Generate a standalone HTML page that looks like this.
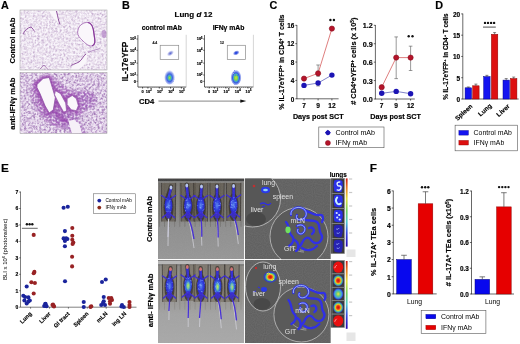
<!DOCTYPE html>
<html><head><meta charset="utf-8"><title>Figure</title>
<style>html,body{margin:0;padding:0;background:#fff;} svg{display:block;will-change:transform;filter:blur(0.3px);} text{font-family:"Liberation Sans", sans-serif;}</style>
</head><body>
<svg xmlns="http://www.w3.org/2000/svg" width="520" height="344" viewBox="0 0 520 344">
<rect x="0" y="0" width="520" height="344" fill="#fff"/>
<text x="1" y="9.1" font-size="10.8" font-weight="bold" text-anchor="start" fill="#000" stroke="#000" stroke-width="0.16">A</text>
<text x="121.9" y="9.2" font-size="10.8" font-weight="bold" text-anchor="start" fill="#000" stroke="#000" stroke-width="0.16">B</text>
<text x="269.6" y="9.3" font-size="10.8" font-weight="bold" text-anchor="start" fill="#000" stroke="#000" stroke-width="0.16">C</text>
<text x="435.2" y="9.2" font-size="10.8" font-weight="bold" text-anchor="start" fill="#000" stroke="#000" stroke-width="0.16">D</text>
<text x="1" y="172.2" font-size="11.8" font-weight="bold" text-anchor="start" fill="#000" stroke="#000" stroke-width="0.16">E</text>
<text x="369.8" y="172.2" font-size="11.8" font-weight="bold" text-anchor="start" fill="#000" stroke="#000" stroke-width="0.16">F</text>
<defs>
<filter id="texL" x="0" y="0" width="100%" height="100%" color-interpolation-filters="sRGB">
 <feTurbulence type="fractalNoise" baseFrequency="0.45" numOctaves="2" seed="4" result="n"/>
 <feColorMatrix in="n" type="matrix" values="0 0 0 0 0.78  0 0 0 0 0.69  0 0 0 0 0.82  2.6 0 0 0 -1.0" result="c"/>
 <feGaussianBlur stdDeviation="0.45"/>
 <feComposite in2="SourceGraphic" operator="in"/>
</filter>
<filter id="texL2" x="0" y="0" width="100%" height="100%" color-interpolation-filters="sRGB">
 <feTurbulence type="fractalNoise" baseFrequency="0.45" numOctaves="2" seed="9" result="n"/>
 <feColorMatrix in="n" type="matrix" values="0 0 0 0 0.64  0 0 0 0 0.48  0 0 0 0 0.72  2.8 0 0 0 -1.0" result="c"/>
 <feGaussianBlur stdDeviation="0.45"/>
 <feComposite in2="SourceGraphic" operator="in"/>
</filter>
<filter id="texW" x="0" y="0" width="100%" height="100%" color-interpolation-filters="sRGB">
 <feTurbulence type="fractalNoise" baseFrequency="0.5" numOctaves="2" seed="11" result="n"/>
 <feColorMatrix in="n" type="matrix" values="0 0 0 0 0.99  0 0 0 0 0.98  0 0 0 0 1  3.2 0 0 0 -1.3" result="c"/>
 <feGaussianBlur stdDeviation="0.45"/>
 <feComposite in2="SourceGraphic" operator="in"/>
</filter>
<filter id="blurA" x="-20%" y="-20%" width="140%" height="140%"><feGaussianBlur stdDeviation="1.1"/></filter>
<filter id="blurB" x="-20%" y="-20%" width="140%" height="140%"><feGaussianBlur stdDeviation="0.4"/></filter>
<clipPath id="cpA1"><rect x="20" y="10" width="87" height="60"/></clipPath>
<clipPath id="cpA2"><rect x="20" y="72.5" width="87" height="61"/></clipPath>
</defs>
<g clip-path="url(#cpA1)">
<rect x="20" y="10" width="87" height="60" fill="#efe8f1" stroke="none" stroke-width="0"/>
<rect x="20" y="10" width="87" height="60" fill="#fff" stroke="none" stroke-width="0" filter="url(#texL)"/>
<rect x="20" y="10" width="87" height="60" fill="#fff" stroke="none" stroke-width="0" filter="url(#texW)" opacity="0.9"/>
<g filter="url(#blurB)">
<path d="M78,30 C79,25 84,22 88,22.5 C92,23 93.5,28 94,34 C94.5,39 96.5,44 92,46 C88,46.5 84,42 80.5,38.5 C78,36 77,33 78,30 Z" fill="#faf7fb" stroke="#a060b0" stroke-width="0.8"/>
<path d="M88,22.5 C92,23 93.5,28 94,34 C94.5,39 96.5,44 92,46" fill="none" stroke="#8a3a9c" stroke-width="1.2"/>
<path d="M47,9 L58,9 C58.5,15 59,20 60,24.5 C57,22 53,17 47,9 Z" fill="#f9f6fa"/>
<path d="M56.5,11 C58,17 58.5,21 60,24.5" fill="none" stroke="#8a4a9a" stroke-width="1"/>
<path d="M23,34 C25,30 28,27.5 31,27 C32.5,28 33.5,30 34.5,31.5" fill="none" stroke="#8a4a9a" stroke-width="0.9"/>
<path d="M70.5,71 C71,66 75,64 79,62 C82,60 83,56 86,54 C88,55 87,59 86,62 C84,66 80,68 77,71 Z" fill="#f9f6fa"/>
<path d="M70.5,66 C72,64.5 75,64 79,62 C82,60 83,56 86,54" fill="none" stroke="#8a4a9a" stroke-width="0.9"/>
<path d="M88.5,52.3 L93,50.5 L99.4,48.7" fill="none" stroke="#a070b4" stroke-width="0.7" stroke-linejoin="round" stroke-linecap="round"/>
<path d="M40,69 L44,65 L48,69.5" fill="none" stroke="#9a60a8" stroke-width="0.7" stroke-linejoin="round" stroke-linecap="round"/>
<ellipse cx="104" cy="34" rx="2.5" ry="4" fill="#b080c4" opacity="0.7"/>
</g>
</g>
<rect x="20" y="10" width="87" height="60" fill="none" stroke="#9a9a9a" stroke-width="0.5"/>
<g clip-path="url(#cpA2)">
<rect x="20" y="72.5" width="87" height="61" fill="#e6d8ec" stroke="none" stroke-width="0"/>
<path d="M31,88 C33,80 40,76 50,77 C58,78 62,86 70,90 C78,93 88,90 94,94 C98,99 92,106 86,110 C80,115 76,121 70,126 C64,130 56,129 50,124 C43,119 38,113 34,105 C31,99 30,93 31,88 Z" fill="#a862be" opacity="0.95" filter="url(#blurA)"/>
<path d="M44,112 C50,118 56,122 62,126 C66,130 72,134 80,134 L86,134 C84,126 80,120 76,116 C70,112 60,110 52,108 Z" fill="#a060bc" opacity="0.85" filter="url(#blurA)"/>
<path d="M76,92 C84,90 92,92 96,96 C98,102 94,108 88,110 C82,112 78,106 76,100 Z" fill="#a060bc" opacity="0.7" filter="url(#blurA)"/>
<rect x="20" y="72.5" width="87" height="61" fill="#fff" stroke="none" stroke-width="0" filter="url(#texL2)"/>
<rect x="20" y="72.5" width="87" height="61" fill="#fff" stroke="none" stroke-width="0" filter="url(#texW)" opacity="0.75"/>
<g filter="url(#blurA)" opacity="0.75">
<path d="M37.0,84.5 L43.1,78.5 L49.2,77.5 L52.3,87.6 L55.3,97.6 L53.3,109.8 L49.2,112.9 L45.1,105.8 L40.0,93.6 L37.0,87.6 Z" fill="none" stroke="#9440aa" stroke-width="5" stroke-linejoin="round"/>
<path d="M55.5,90.7 L60.6,93.7 L65.6,102.9 L66.6,111.0 L63.6,112.0 L58.6,102.9 L54.5,94.7 Z" fill="none" stroke="#9440aa" stroke-width="4" stroke-linejoin="round"/>
<path d="M67.2,98.6 L72.3,95.5 L76.3,98.6 L78.3,105.6 L76.3,110.7 L71.2,109.7 L67.2,104.6 Z" fill="none" stroke="#9440aa" stroke-width="4" stroke-linejoin="round"/>
<path d="M56,112 C60,118 64,122 68,121" fill="none" stroke="#9440aa" stroke-width="4"/>
</g>
<g filter="url(#blurB)">
<path d="M37.0,84.5 L43.1,78.5 L49.2,77.5 L52.3,87.6 L55.3,97.6 L53.3,109.8 L49.2,112.9 L45.1,105.8 L40.0,93.6 L37.0,87.6 Z" fill="#faf7fb" stroke="#8a4aa0" stroke-width="0.7" stroke-linejoin="round"/>
<path d="M55.5,90.7 L60.6,93.7 L65.6,102.9 L66.6,111.0 L63.6,112.0 L58.6,102.9 L54.5,94.7 Z" fill="#faf7fb" stroke="#8a4aa0" stroke-width="0.6" stroke-linejoin="round"/>
<path d="M67.2,98.6 L72.3,95.5 L76.3,98.6 L78.3,105.6 L76.3,110.7 L71.2,109.7 L67.2,104.6 Z" fill="#faf7fb" stroke="#8a4aa0" stroke-width="0.6" stroke-linejoin="round"/>
<path d="M68.7,120.7 L74.1,119.8 L79.5,124.3 L82.2,134 L72.3,134 L69.6,126.1 Z" fill="#f6f0f8" stroke="none" stroke-width="0" stroke-linejoin="round"/>
</g>
</g>
<rect x="20" y="72.5" width="87" height="61" fill="none" stroke="#9a9a9a" stroke-width="0.5"/>
<text x="15.4" y="40.6" font-size="7.55" font-weight="bold" text-anchor="middle" fill="#000" stroke="#000" stroke-width="0.16" transform="rotate(-90 15.4 40.6)">Control mAb</text>
<text x="15.5" y="103.6" font-size="7.7" font-weight="bold" text-anchor="middle" fill="#000" stroke="#000" stroke-width="0.16" transform="rotate(-90 15.5 103.6)">anti-IFNγ mAb</text>
<text x="193.5" y="17.2" font-size="8.0" font-weight="bold" text-anchor="middle" fill="#000" stroke="#000" stroke-width="0.16">Lung <tspan font-style="italic">d</tspan> 12</text>
<text x="161.8" y="29.8" font-size="6.8" font-weight="bold" text-anchor="middle" fill="#000" stroke="#000" stroke-width="0.16">control mAb</text>
<text x="228.5" y="29.8" font-size="6.8" font-weight="bold" text-anchor="middle" fill="#000" stroke="#000" stroke-width="0.16">IFNγ mAb</text>
<text x="127.9" y="61.5" font-size="8.2" font-weight="bold" text-anchor="middle" fill="#000" stroke="#000" stroke-width="0.16" transform="rotate(-90 127.9 61.5)">IL-17eYFP</text>
<text x="139" y="104" font-size="7.6" font-weight="bold" text-anchor="start" fill="#000" stroke="#000" stroke-width="0.16">CD4</text>
<line x1="158.5" y1="101.1" x2="242" y2="101.1" stroke="#222" stroke-width="0.55"/>
<path d="M246.3,101.1 L240.3,99.5 L240.3,102.7 Z" fill="#111"/>
<defs>
<radialGradient id="blob" cx="50%" cy="55%" r="50%">
 <stop offset="0" stop-color="#b8e040"/>
 <stop offset="0.16" stop-color="#70d060"/>
 <stop offset="0.32" stop-color="#40a8d0"/>
 <stop offset="0.5" stop-color="#4060e0"/>
 <stop offset="0.75" stop-color="#7088e8" stop-opacity="0.7"/>
 <stop offset="1" stop-color="#a0b0f0" stop-opacity="0"/>
</radialGradient>
<filter id="fuzz" x="-30%" y="-30%" width="160%" height="160%">
 <feTurbulence type="fractalNoise" baseFrequency="0.9" numOctaves="1" seed="8" result="t"/>
 <feDisplacementMap in="SourceGraphic" in2="t" scale="2.2" xChannelSelector="R" yChannelSelector="G"/>
</filter>
<radialGradient id="blobB" cx="50%" cy="55%" r="50%">
 <stop offset="0" stop-color="#d0e830"/>
 <stop offset="0.3" stop-color="#80d050"/>
 <stop offset="0.45" stop-color="#40a8d0"/>
 <stop offset="0.62" stop-color="#3a5ae0"/>
 <stop offset="0.85" stop-color="#6a80e8" stop-opacity="0.6"/>
 <stop offset="1" stop-color="#a0b0f0" stop-opacity="0"/>
</radialGradient>
<radialGradient id="blob2" cx="50%" cy="50%" r="50%">
 <stop offset="0" stop-color="#5060d0"/>
 <stop offset="0.5" stop-color="#8088d8" stop-opacity="0.7"/>
 <stop offset="1" stop-color="#b0b8f0" stop-opacity="0"/>
</radialGradient>
<radialGradient id="blob3" cx="50%" cy="50%" r="50%">
 <stop offset="0" stop-color="#2040e0"/>
 <stop offset="0.3" stop-color="#3050e0"/>
 <stop offset="0.65" stop-color="#6070e0" stop-opacity="0.7"/>
 <stop offset="1" stop-color="#a0a8f0" stop-opacity="0"/>
</radialGradient>
</defs>
<line x1="137.9" y1="35.0" x2="137.9" y2="87.0" stroke="#000" stroke-width="0.6"/>
<line x1="137.9" y1="87.0" x2="186.2" y2="87.0" stroke="#000" stroke-width="0.6"/>
<line x1="186.2" y1="34.8" x2="186.2" y2="87.0" stroke="#aaa" stroke-width="0.5"/>
<line x1="136.4" y1="39" x2="137.9" y2="39" stroke="#000" stroke-width="0.5"/>
<text x="135.9" y="40.4" font-size="3.9" font-weight="bold" text-anchor="end" fill="#000" stroke="#000" stroke-width="0.16">10<tspan font-size="2.6" dy="-1.4">5</tspan></text>
<line x1="136.4" y1="50.3" x2="137.9" y2="50.3" stroke="#000" stroke-width="0.5"/>
<text x="135.9" y="51.699999999999996" font-size="3.9" font-weight="bold" text-anchor="end" fill="#000" stroke="#000" stroke-width="0.16">10<tspan font-size="2.6" dy="-1.4">4</tspan></text>
<line x1="136.4" y1="63.1" x2="137.9" y2="63.1" stroke="#000" stroke-width="0.5"/>
<text x="135.9" y="64.5" font-size="3.9" font-weight="bold" text-anchor="end" fill="#000" stroke="#000" stroke-width="0.16">10<tspan font-size="2.6" dy="-1.4">3</tspan></text>
<line x1="136.4" y1="75" x2="137.9" y2="75" stroke="#000" stroke-width="0.5"/>
<text x="135.9" y="76.4" font-size="3.9" font-weight="bold" text-anchor="end" fill="#000" stroke="#000" stroke-width="0.16">10<tspan font-size="2.6" dy="-1.4">2</tspan></text>
<line x1="136.4" y1="81.3" x2="137.9" y2="81.3" stroke="#000" stroke-width="0.5"/>
<text x="135.9" y="82.7" font-size="3.9" font-weight="bold" text-anchor="end" fill="#000" stroke="#000" stroke-width="0.16">0</text>
<line x1="142.6" y1="87.0" x2="142.6" y2="88.6" stroke="#000" stroke-width="0.6"/>
<line x1="147.9" y1="87.0" x2="147.9" y2="88.6" stroke="#000" stroke-width="0.6"/>
<line x1="159.3" y1="87.0" x2="159.3" y2="88.6" stroke="#000" stroke-width="0.6"/>
<line x1="170.60000000000002" y1="87.0" x2="170.60000000000002" y2="88.6" stroke="#000" stroke-width="0.6"/>
<line x1="181.4" y1="87.0" x2="181.4" y2="88.6" stroke="#000" stroke-width="0.6"/>
<text x="142.6" y="92.6" font-size="3.9" font-weight="bold" text-anchor="middle" fill="#000" stroke="#000" stroke-width="0.16">0</text>
<text x="148.70000000000002" y="92.6" font-size="3.9" font-weight="bold" text-anchor="middle" fill="#000" stroke="#000" stroke-width="0.16">10<tspan font-size="2.6" dy="-1.4">2</tspan></text>
<text x="159.9" y="92.6" font-size="3.9" font-weight="bold" text-anchor="middle" fill="#000" stroke="#000" stroke-width="0.16">10<tspan font-size="2.6" dy="-1.4">3</tspan></text>
<text x="171.10000000000002" y="92.6" font-size="3.9" font-weight="bold" text-anchor="middle" fill="#000" stroke="#000" stroke-width="0.16">10<tspan font-size="2.6" dy="-1.4">4</tspan></text>
<text x="181.9" y="92.6" font-size="3.9" font-weight="bold" text-anchor="middle" fill="#000" stroke="#000" stroke-width="0.16">10<tspan font-size="2.6" dy="-1.4">5</tspan></text>
<line x1="138.9" y1="87.0" x2="138.9" y2="87.9" stroke="#000" stroke-width="0.3"/>
<line x1="140.9" y1="87.0" x2="140.9" y2="87.9" stroke="#000" stroke-width="0.3"/>
<line x1="142.9" y1="87.0" x2="142.9" y2="87.9" stroke="#000" stroke-width="0.3"/>
<line x1="144.9" y1="87.0" x2="144.9" y2="87.9" stroke="#000" stroke-width="0.3"/>
<line x1="146.9" y1="87.0" x2="146.9" y2="87.9" stroke="#000" stroke-width="0.3"/>
<line x1="148.9" y1="87.0" x2="148.9" y2="87.9" stroke="#000" stroke-width="0.3"/>
<line x1="150.9" y1="87.0" x2="150.9" y2="87.9" stroke="#000" stroke-width="0.3"/>
<line x1="152.9" y1="87.0" x2="152.9" y2="87.9" stroke="#000" stroke-width="0.3"/>
<line x1="154.9" y1="87.0" x2="154.9" y2="87.9" stroke="#000" stroke-width="0.3"/>
<line x1="156.9" y1="87.0" x2="156.9" y2="87.9" stroke="#000" stroke-width="0.3"/>
<line x1="158.9" y1="87.0" x2="158.9" y2="87.9" stroke="#000" stroke-width="0.3"/>
<line x1="160.9" y1="87.0" x2="160.9" y2="87.9" stroke="#000" stroke-width="0.3"/>
<line x1="162.9" y1="87.0" x2="162.9" y2="87.9" stroke="#000" stroke-width="0.3"/>
<line x1="164.9" y1="87.0" x2="164.9" y2="87.9" stroke="#000" stroke-width="0.3"/>
<line x1="166.9" y1="87.0" x2="166.9" y2="87.9" stroke="#000" stroke-width="0.3"/>
<line x1="168.9" y1="87.0" x2="168.9" y2="87.9" stroke="#000" stroke-width="0.3"/>
<line x1="170.9" y1="87.0" x2="170.9" y2="87.9" stroke="#000" stroke-width="0.3"/>
<line x1="172.9" y1="87.0" x2="172.9" y2="87.9" stroke="#000" stroke-width="0.3"/>
<line x1="174.9" y1="87.0" x2="174.9" y2="87.9" stroke="#000" stroke-width="0.3"/>
<line x1="176.9" y1="87.0" x2="176.9" y2="87.9" stroke="#000" stroke-width="0.3"/>
<line x1="178.9" y1="87.0" x2="178.9" y2="87.9" stroke="#000" stroke-width="0.3"/>
<line x1="180.9" y1="87.0" x2="180.9" y2="87.9" stroke="#000" stroke-width="0.3"/>
<line x1="182.9" y1="87.0" x2="182.9" y2="87.9" stroke="#000" stroke-width="0.3"/>
<line x1="184.9" y1="87.0" x2="184.9" y2="87.9" stroke="#000" stroke-width="0.3"/>
<rect x="160.2" y="45.3" width="18.5" height="14.1" fill="none" stroke="#8c8c8c" stroke-width="0.7"/>
<text x="152.4" y="43.9" font-size="3.4" font-weight="bold" text-anchor="start" fill="#222" stroke="#222" stroke-width="0.16">4.4</text>
<ellipse cx="170.39999999999998" cy="53.3" rx="4" ry="2.5" fill="url(#blob2)" transform="rotate(-35 170.39999999999998 53.3)"/>
<ellipse cx="169.6" cy="77.0" rx="5.6" ry="7.8" fill="url(#blob)" filter="url(#fuzz)"/>
<line x1="204.5" y1="35.0" x2="204.5" y2="87.0" stroke="#000" stroke-width="0.6"/>
<line x1="204.5" y1="87.0" x2="253.4" y2="87.0" stroke="#000" stroke-width="0.6"/>
<line x1="253.4" y1="34.8" x2="253.4" y2="87.0" stroke="#aaa" stroke-width="0.5"/>
<line x1="203.0" y1="39" x2="204.5" y2="39" stroke="#000" stroke-width="0.5"/>
<text x="202.5" y="40.4" font-size="3.9" font-weight="bold" text-anchor="end" fill="#000" stroke="#000" stroke-width="0.16">10<tspan font-size="2.6" dy="-1.4">5</tspan></text>
<line x1="203.0" y1="50.3" x2="204.5" y2="50.3" stroke="#000" stroke-width="0.5"/>
<text x="202.5" y="51.699999999999996" font-size="3.9" font-weight="bold" text-anchor="end" fill="#000" stroke="#000" stroke-width="0.16">10<tspan font-size="2.6" dy="-1.4">4</tspan></text>
<line x1="203.0" y1="63.1" x2="204.5" y2="63.1" stroke="#000" stroke-width="0.5"/>
<text x="202.5" y="64.5" font-size="3.9" font-weight="bold" text-anchor="end" fill="#000" stroke="#000" stroke-width="0.16">10<tspan font-size="2.6" dy="-1.4">3</tspan></text>
<line x1="203.0" y1="75" x2="204.5" y2="75" stroke="#000" stroke-width="0.5"/>
<text x="202.5" y="76.4" font-size="3.9" font-weight="bold" text-anchor="end" fill="#000" stroke="#000" stroke-width="0.16">10<tspan font-size="2.6" dy="-1.4">2</tspan></text>
<line x1="203.0" y1="81.3" x2="204.5" y2="81.3" stroke="#000" stroke-width="0.5"/>
<text x="202.5" y="82.7" font-size="3.9" font-weight="bold" text-anchor="end" fill="#000" stroke="#000" stroke-width="0.16">0</text>
<line x1="209.2" y1="87.0" x2="209.2" y2="88.6" stroke="#000" stroke-width="0.6"/>
<line x1="214.5" y1="87.0" x2="214.5" y2="88.6" stroke="#000" stroke-width="0.6"/>
<line x1="225.9" y1="87.0" x2="225.9" y2="88.6" stroke="#000" stroke-width="0.6"/>
<line x1="237.2" y1="87.0" x2="237.2" y2="88.6" stroke="#000" stroke-width="0.6"/>
<line x1="248.0" y1="87.0" x2="248.0" y2="88.6" stroke="#000" stroke-width="0.6"/>
<text x="209.2" y="92.6" font-size="3.9" font-weight="bold" text-anchor="middle" fill="#000" stroke="#000" stroke-width="0.16">0</text>
<text x="215.3" y="92.6" font-size="3.9" font-weight="bold" text-anchor="middle" fill="#000" stroke="#000" stroke-width="0.16">10<tspan font-size="2.6" dy="-1.4">2</tspan></text>
<text x="226.5" y="92.6" font-size="3.9" font-weight="bold" text-anchor="middle" fill="#000" stroke="#000" stroke-width="0.16">10<tspan font-size="2.6" dy="-1.4">3</tspan></text>
<text x="237.7" y="92.6" font-size="3.9" font-weight="bold" text-anchor="middle" fill="#000" stroke="#000" stroke-width="0.16">10<tspan font-size="2.6" dy="-1.4">4</tspan></text>
<text x="248.5" y="92.6" font-size="3.9" font-weight="bold" text-anchor="middle" fill="#000" stroke="#000" stroke-width="0.16">10<tspan font-size="2.6" dy="-1.4">5</tspan></text>
<line x1="205.5" y1="87.0" x2="205.5" y2="87.9" stroke="#000" stroke-width="0.3"/>
<line x1="207.5" y1="87.0" x2="207.5" y2="87.9" stroke="#000" stroke-width="0.3"/>
<line x1="209.5" y1="87.0" x2="209.5" y2="87.9" stroke="#000" stroke-width="0.3"/>
<line x1="211.5" y1="87.0" x2="211.5" y2="87.9" stroke="#000" stroke-width="0.3"/>
<line x1="213.5" y1="87.0" x2="213.5" y2="87.9" stroke="#000" stroke-width="0.3"/>
<line x1="215.5" y1="87.0" x2="215.5" y2="87.9" stroke="#000" stroke-width="0.3"/>
<line x1="217.5" y1="87.0" x2="217.5" y2="87.9" stroke="#000" stroke-width="0.3"/>
<line x1="219.5" y1="87.0" x2="219.5" y2="87.9" stroke="#000" stroke-width="0.3"/>
<line x1="221.5" y1="87.0" x2="221.5" y2="87.9" stroke="#000" stroke-width="0.3"/>
<line x1="223.5" y1="87.0" x2="223.5" y2="87.9" stroke="#000" stroke-width="0.3"/>
<line x1="225.5" y1="87.0" x2="225.5" y2="87.9" stroke="#000" stroke-width="0.3"/>
<line x1="227.5" y1="87.0" x2="227.5" y2="87.9" stroke="#000" stroke-width="0.3"/>
<line x1="229.5" y1="87.0" x2="229.5" y2="87.9" stroke="#000" stroke-width="0.3"/>
<line x1="231.5" y1="87.0" x2="231.5" y2="87.9" stroke="#000" stroke-width="0.3"/>
<line x1="233.5" y1="87.0" x2="233.5" y2="87.9" stroke="#000" stroke-width="0.3"/>
<line x1="235.5" y1="87.0" x2="235.5" y2="87.9" stroke="#000" stroke-width="0.3"/>
<line x1="237.5" y1="87.0" x2="237.5" y2="87.9" stroke="#000" stroke-width="0.3"/>
<line x1="239.5" y1="87.0" x2="239.5" y2="87.9" stroke="#000" stroke-width="0.3"/>
<line x1="241.5" y1="87.0" x2="241.5" y2="87.9" stroke="#000" stroke-width="0.3"/>
<line x1="243.5" y1="87.0" x2="243.5" y2="87.9" stroke="#000" stroke-width="0.3"/>
<line x1="245.5" y1="87.0" x2="245.5" y2="87.9" stroke="#000" stroke-width="0.3"/>
<line x1="247.5" y1="87.0" x2="247.5" y2="87.9" stroke="#000" stroke-width="0.3"/>
<line x1="249.5" y1="87.0" x2="249.5" y2="87.9" stroke="#000" stroke-width="0.3"/>
<line x1="251.5" y1="87.0" x2="251.5" y2="87.9" stroke="#000" stroke-width="0.3"/>
<rect x="227.3" y="45.3" width="18.1" height="14.1" fill="none" stroke="#8c8c8c" stroke-width="0.7"/>
<text x="220.0" y="43.9" font-size="3.4" font-weight="bold" text-anchor="start" fill="#222" stroke="#222" stroke-width="0.16">12</text>
<ellipse cx="236.20000000000002" cy="52.9" rx="3.6" ry="2.4" fill="url(#blob3)" transform="rotate(-25 236.20000000000002 52.9)"/>
<ellipse cx="236.0" cy="77.0" rx="5.6" ry="8.2" fill="url(#blobB)" filter="url(#fuzz)"/>
<line x1="296.9" y1="25.0" x2="296.9" y2="99.1" stroke="#000" stroke-width="0.6"/>
<line x1="295.29999999999995" y1="98.8" x2="296.9" y2="98.8" stroke="#000" stroke-width="0.6"/>
<text x="294.29999999999995" y="101.55199999999999" font-size="6.4" font-weight="bold" text-anchor="end" fill="#000" stroke="#000" stroke-width="0.16">0</text>
<line x1="295.29999999999995" y1="80.425" x2="296.9" y2="80.425" stroke="#000" stroke-width="0.6"/>
<text x="294.29999999999995" y="83.17699999999999" font-size="6.4" font-weight="bold" text-anchor="end" fill="#000" stroke="#000" stroke-width="0.16">4</text>
<line x1="295.29999999999995" y1="62.05" x2="296.9" y2="62.05" stroke="#000" stroke-width="0.6"/>
<text x="294.29999999999995" y="64.80199999999999" font-size="6.4" font-weight="bold" text-anchor="end" fill="#000" stroke="#000" stroke-width="0.16">8</text>
<line x1="295.29999999999995" y1="43.675" x2="296.9" y2="43.675" stroke="#000" stroke-width="0.6"/>
<text x="294.29999999999995" y="46.427" font-size="6.4" font-weight="bold" text-anchor="end" fill="#000" stroke="#000" stroke-width="0.16">12</text>
<line x1="295.29999999999995" y1="25.299999999999997" x2="296.9" y2="25.299999999999997" stroke="#000" stroke-width="0.6"/>
<text x="294.29999999999995" y="28.051999999999996" font-size="6.4" font-weight="bold" text-anchor="end" fill="#000" stroke="#000" stroke-width="0.16">16</text>
<line x1="296.9" y1="98.8" x2="338.6" y2="98.8" stroke="#000" stroke-width="0.6"/>
<line x1="304.0" y1="98.8" x2="304.0" y2="100.39999999999999" stroke="#000" stroke-width="0.6"/>
<text x="304.0" y="108.1" font-size="6.6" font-weight="bold" text-anchor="middle" fill="#000" stroke="#000" stroke-width="0.16">7</text>
<line x1="318.1" y1="98.8" x2="318.1" y2="100.39999999999999" stroke="#000" stroke-width="0.6"/>
<text x="318.1" y="108.1" font-size="6.6" font-weight="bold" text-anchor="middle" fill="#000" stroke="#000" stroke-width="0.16">9</text>
<line x1="331.9" y1="98.8" x2="331.9" y2="100.39999999999999" stroke="#000" stroke-width="0.6"/>
<text x="331.9" y="108.1" font-size="6.6" font-weight="bold" text-anchor="middle" fill="#000" stroke="#000" stroke-width="0.16">12</text>
<line x1="318.1" y1="76.29062499999999" x2="318.1" y2="64.99" stroke="#555" stroke-width="0.6"/>
<line x1="316.3" y1="64.99" x2="319.90000000000003" y2="64.99" stroke="#555" stroke-width="0.6"/>
<line x1="316.3" y1="76.29062499999999" x2="319.90000000000003" y2="76.29062499999999" stroke="#555" stroke-width="0.6"/>
<line x1="318.1" y1="85.9834375" x2="318.1" y2="82.9975" stroke="#555" stroke-width="0.6"/>
<line x1="316.3" y1="85.9834375" x2="319.90000000000003" y2="85.9834375" stroke="#555" stroke-width="0.6"/>
<polyline points="304.0,78.58749999999999 318.1,73.3046875 331.9,28.6075" fill="none" stroke="#d04848" stroke-width="0.7"/>
<polyline points="304.0,85.38624999999999 318.1,82.9975 331.9,75.09625" fill="none" stroke="#4a50b0" stroke-width="0.7"/>
<circle cx="304.0" cy="85.38624999999999" r="2.7" fill="#1c14b4" stroke="none" stroke-width="0"/>
<circle cx="318.1" cy="82.9975" r="2.7" fill="#1c14b4" stroke="none" stroke-width="0"/>
<circle cx="331.9" cy="75.09625" r="2.7" fill="#1c14b4" stroke="none" stroke-width="0"/>
<circle cx="304.0" cy="78.58749999999999" r="2.6" fill="#b4142a" stroke="#8a0c1c" stroke-width="0.6"/>
<circle cx="318.1" cy="73.3046875" r="2.6" fill="#b4142a" stroke="#8a0c1c" stroke-width="0.6"/>
<circle cx="331.9" cy="28.6075" r="2.6" fill="#b4142a" stroke="#8a0c1c" stroke-width="0.6"/>
<circle cx="330.4" cy="20.0" r="1.2" fill="#111"/>
<circle cx="333.9" cy="20.0" r="1.2" fill="#111"/>
<text x="284.1" y="62.1" font-size="7.0" font-weight="bold" text-anchor="middle" fill="#000" stroke="#000" stroke-width="0.16" transform="rotate(-90 284.1 62.1)">% IL-17eYFP<tspan font-size="65%" baseline-shift="super">+</tspan> in CD4<tspan font-size="65%" baseline-shift="super">+</tspan> T cells</text>
<text x="318.25" y="118.9" font-size="7.2" font-weight="bold" text-anchor="middle" fill="#000" stroke="#000" stroke-width="0.16">Days post SCT</text>
<line x1="375.4" y1="25.0" x2="375.4" y2="99.3" stroke="#000" stroke-width="0.6"/>
<line x1="373.79999999999995" y1="99.0" x2="375.4" y2="99.0" stroke="#000" stroke-width="0.6"/>
<text x="372.79999999999995" y="102.096" font-size="7.2" font-weight="bold" text-anchor="end" fill="#000" stroke="#000" stroke-width="0.16">0.0</text>
<line x1="373.79999999999995" y1="80.575" x2="375.4" y2="80.575" stroke="#000" stroke-width="0.6"/>
<text x="372.79999999999995" y="83.671" font-size="7.2" font-weight="bold" text-anchor="end" fill="#000" stroke="#000" stroke-width="0.16">0.3</text>
<line x1="373.79999999999995" y1="62.15" x2="375.4" y2="62.15" stroke="#000" stroke-width="0.6"/>
<text x="372.79999999999995" y="65.246" font-size="7.2" font-weight="bold" text-anchor="end" fill="#000" stroke="#000" stroke-width="0.16">0.6</text>
<line x1="373.79999999999995" y1="43.725" x2="375.4" y2="43.725" stroke="#000" stroke-width="0.6"/>
<text x="372.79999999999995" y="46.821" font-size="7.2" font-weight="bold" text-anchor="end" fill="#000" stroke="#000" stroke-width="0.16">0.9</text>
<line x1="373.79999999999995" y1="25.299999999999997" x2="375.4" y2="25.299999999999997" stroke="#000" stroke-width="0.6"/>
<text x="372.79999999999995" y="28.395999999999997" font-size="7.2" font-weight="bold" text-anchor="end" fill="#000" stroke="#000" stroke-width="0.16">1.2</text>
<line x1="375.4" y1="99.0" x2="414.8" y2="99.0" stroke="#000" stroke-width="0.6"/>
<line x1="381.7" y1="99.0" x2="381.7" y2="100.6" stroke="#000" stroke-width="0.6"/>
<text x="381.7" y="108.3" font-size="6.6" font-weight="bold" text-anchor="middle" fill="#000" stroke="#000" stroke-width="0.16">7</text>
<line x1="396.2" y1="99.0" x2="396.2" y2="100.6" stroke="#000" stroke-width="0.6"/>
<text x="396.2" y="108.3" font-size="6.6" font-weight="bold" text-anchor="middle" fill="#000" stroke="#000" stroke-width="0.16">9</text>
<line x1="410.6" y1="99.0" x2="410.6" y2="100.6" stroke="#000" stroke-width="0.6"/>
<text x="410.6" y="108.3" font-size="6.6" font-weight="bold" text-anchor="middle" fill="#000" stroke="#000" stroke-width="0.16">12</text>
<line x1="396.2" y1="78.60966666666667" x2="396.2" y2="36.90775" stroke="#555" stroke-width="0.6"/>
<line x1="394.4" y1="36.90775" x2="398.0" y2="36.90775" stroke="#555" stroke-width="0.6"/>
<line x1="394.4" y1="78.60966666666667" x2="398.0" y2="78.60966666666667" stroke="#555" stroke-width="0.6"/>
<line x1="410.6" y1="70.50266666666667" x2="410.6" y2="46.181666666666665" stroke="#555" stroke-width="0.6"/>
<line x1="408.8" y1="46.181666666666665" x2="412.40000000000003" y2="46.181666666666665" stroke="#555" stroke-width="0.6"/>
<line x1="408.8" y1="70.50266666666667" x2="412.40000000000003" y2="70.50266666666667" stroke="#555" stroke-width="0.6"/>
<polyline points="381.7,87.208 396.2,57.60516666666666 410.6,57.60516666666666" fill="none" stroke="#d04848" stroke-width="0.7"/>
<polyline points="381.7,93.28825 396.2,91.38433333333333 410.6,93.71816666666666" fill="none" stroke="#4a50b0" stroke-width="0.7"/>
<circle cx="381.7" cy="93.28825" r="2.7" fill="#1c14b4" stroke="none" stroke-width="0"/>
<circle cx="396.2" cy="91.38433333333333" r="2.7" fill="#1c14b4" stroke="none" stroke-width="0"/>
<circle cx="410.6" cy="93.71816666666666" r="2.7" fill="#1c14b4" stroke="none" stroke-width="0"/>
<circle cx="381.7" cy="87.208" r="2.6" fill="#b4142a" stroke="#8a0c1c" stroke-width="0.6"/>
<circle cx="396.2" cy="57.60516666666666" r="2.6" fill="#b4142a" stroke="#8a0c1c" stroke-width="0.6"/>
<circle cx="410.6" cy="57.60516666666666" r="2.6" fill="#b4142a" stroke="#8a0c1c" stroke-width="0.6"/>
<circle cx="408.7" cy="36.3" r="1.2" fill="#111"/>
<circle cx="412.5" cy="36.3" r="1.2" fill="#111"/>
<text x="355.9" y="61.2" font-size="7.37" font-weight="bold" text-anchor="middle" fill="#000" stroke="#000" stroke-width="0.16" transform="rotate(-90 355.9 61.2)"># CD4<tspan font-size="65%" baseline-shift="super">+</tspan>eYFP<tspan font-size="65%" baseline-shift="super">+</tspan> cells (x 10<tspan font-size="65%" baseline-shift="super">5</tspan>)</text>
<text x="395.6" y="118.9" font-size="7.2" font-weight="bold" text-anchor="middle" fill="#000" stroke="#000" stroke-width="0.16">Days post SCT</text>
<rect x="318.8" y="127" width="65.2" height="20.7" fill="#fff" stroke="#555" stroke-width="0.6"/>
<path d="M327.9,129.8 L330.9,132.7 L327.9,135.6 L324.9,132.7 Z" fill="#1c14b4"/>
<circle cx="327.9" cy="132.7" r="2.3" fill="#1c14b4" stroke="none" stroke-width="0"/>
<circle cx="327.9" cy="142.9" r="2.5" fill="#b4142a" stroke="#8a0c1c" stroke-width="0.5"/>
<text x="335.6" y="135.3" font-size="7.1" font-weight="normal" text-anchor="start" fill="#000">Control mAb</text>
<text x="335.6" y="145.4" font-size="7.1" font-weight="normal" text-anchor="start" fill="#000">IFNγ mAb</text>
<line x1="462.8" y1="13.6" x2="462.8" y2="99.3" stroke="#000" stroke-width="0.6"/>
<line x1="461.2" y1="99.0" x2="462.8" y2="99.0" stroke="#000" stroke-width="0.6"/>
<text x="460.2" y="101.795" font-size="6.5" font-weight="bold" text-anchor="end" fill="#000" stroke="#000" stroke-width="0.16">0</text>
<line x1="461.2" y1="77.725" x2="462.8" y2="77.725" stroke="#000" stroke-width="0.6"/>
<text x="460.2" y="80.52" font-size="6.5" font-weight="bold" text-anchor="end" fill="#000" stroke="#000" stroke-width="0.16">5</text>
<line x1="461.2" y1="56.45" x2="462.8" y2="56.45" stroke="#000" stroke-width="0.6"/>
<text x="460.2" y="59.245000000000005" font-size="6.5" font-weight="bold" text-anchor="end" fill="#000" stroke="#000" stroke-width="0.16">10</text>
<line x1="461.2" y1="35.175000000000004" x2="462.8" y2="35.175000000000004" stroke="#000" stroke-width="0.6"/>
<text x="460.2" y="37.970000000000006" font-size="6.5" font-weight="bold" text-anchor="end" fill="#000" stroke="#000" stroke-width="0.16">15</text>
<line x1="461.2" y1="13.900000000000006" x2="462.8" y2="13.900000000000006" stroke="#000" stroke-width="0.6"/>
<text x="460.2" y="16.695000000000007" font-size="6.5" font-weight="bold" text-anchor="end" fill="#000" stroke="#000" stroke-width="0.16">20</text>
<line x1="462.8" y1="99.0" x2="518.7" y2="99.0" stroke="#000" stroke-width="0.6"/>
<rect x="465.1" y="87.80935" width="6.4" height="11.19065" fill="#1414f0" stroke="#00008a" stroke-width="0.5"/>
<line x1="468.3" y1="87.80935" x2="468.3" y2="86.95835" stroke="#333" stroke-width="0.6"/>
<line x1="466.8" y1="86.95835" x2="469.8" y2="86.95835" stroke="#333" stroke-width="0.6"/>
<rect x="472.7" y="85.8095" width="6.4" height="13.1905" fill="#dd1010" stroke="#8a0000" stroke-width="0.5"/>
<line x1="475.9" y1="85.8095" x2="475.9" y2="84.1075" stroke="#333" stroke-width="0.6"/>
<line x1="474.4" y1="84.1075" x2="477.4" y2="84.1075" stroke="#333" stroke-width="0.6"/>
<rect x="483.7" y="76.6187" width="6.4" height="22.3813" fill="#1414f0" stroke="#00008a" stroke-width="0.5"/>
<line x1="486.9" y1="76.6187" x2="486.9" y2="75.3422" stroke="#333" stroke-width="0.6"/>
<line x1="485.4" y1="75.3422" x2="488.4" y2="75.3422" stroke="#333" stroke-width="0.6"/>
<rect x="491.4" y="34.324" width="6.4" height="64.676" fill="#dd1010" stroke="#8a0000" stroke-width="0.5"/>
<line x1="494.59999999999997" y1="34.324" x2="494.59999999999997" y2="32.622" stroke="#333" stroke-width="0.6"/>
<line x1="493.09999999999997" y1="32.622" x2="496.09999999999997" y2="32.622" stroke="#333" stroke-width="0.6"/>
<rect x="503.0" y="80.1078" width="6.4" height="18.892200000000003" fill="#1414f0" stroke="#00008a" stroke-width="0.5"/>
<line x1="506.2" y1="80.1078" x2="506.2" y2="78.61855" stroke="#333" stroke-width="0.6"/>
<line x1="504.7" y1="78.61855" x2="507.7" y2="78.61855" stroke="#333" stroke-width="0.6"/>
<rect x="510.5" y="78.576" width="6.4" height="20.424" fill="#dd1010" stroke="#8a0000" stroke-width="0.5"/>
<line x1="513.7" y1="78.576" x2="513.7" y2="77.08675" stroke="#333" stroke-width="0.6"/>
<line x1="512.2" y1="77.08675" x2="515.2" y2="77.08675" stroke="#333" stroke-width="0.6"/>
<circle cx="485.0" cy="22.9" r="1.2" fill="#111"/>
<circle cx="488.0" cy="22.9" r="1.2" fill="#111"/>
<circle cx="491.1" cy="22.9" r="1.2" fill="#111"/>
<circle cx="494.1" cy="22.9" r="1.2" fill="#111"/>
<line x1="483.0" y1="27.1" x2="495.8" y2="27.1" stroke="#222" stroke-width="0.8"/>
<text x="473.0" y="106.9" font-size="6.4" font-weight="bold" text-anchor="end" fill="#000" stroke="#000" stroke-width="0.16" transform="rotate(-42 473.0 106.9)">Spleen</text>
<text x="492.1" y="106.3" font-size="6.4" font-weight="bold" text-anchor="end" fill="#000" stroke="#000" stroke-width="0.16" transform="rotate(-42 492.1 106.3)">Lung</text>
<text x="510.2" y="106.9" font-size="6.4" font-weight="bold" text-anchor="end" fill="#000" stroke="#000" stroke-width="0.16" transform="rotate(-42 510.2 106.9)">Liver</text>
<text x="448.0" y="56.6" font-size="6.37" font-weight="bold" text-anchor="middle" fill="#000" stroke="#000" stroke-width="0.16" transform="rotate(-90 448.0 56.6)">% IL-17eYFP<tspan font-size="65%" baseline-shift="super">+</tspan> in CD4<tspan font-size="65%" baseline-shift="super">+</tspan> T cells</text>
<rect x="455.1" y="125.2" width="62.4" height="25.6" fill="#fff" stroke="#555" stroke-width="0.6"/>
<rect x="458.9" y="130.5" width="9.5" height="4.6" fill="#1414f0" stroke="#00008a" stroke-width="0.4"/>
<rect x="458.9" y="140.4" width="9.5" height="4.6" fill="#dd1010" stroke="#8a0000" stroke-width="0.4"/>
<text x="473.6" y="135.3" font-size="6.9" font-weight="normal" text-anchor="start" fill="#000">Control mAb</text>
<text x="473.6" y="145.3" font-size="6.9" font-weight="normal" text-anchor="start" fill="#000">IFNγ mAb</text>
<line x1="20.5" y1="307.2" x2="20.5" y2="191.55" stroke="#000" stroke-width="0.5"/>
<line x1="19.1" y1="307.2" x2="20.5" y2="307.2" stroke="#000" stroke-width="0.5"/>
<text x="18.3" y="309.0" font-size="5.0" font-weight="bold" text-anchor="end" fill="#000" stroke="#000" stroke-width="0.16">0</text>
<line x1="19.1" y1="290.75" x2="20.5" y2="290.75" stroke="#000" stroke-width="0.5"/>
<text x="18.3" y="292.55" font-size="5.0" font-weight="bold" text-anchor="end" fill="#000" stroke="#000" stroke-width="0.16">1</text>
<line x1="19.1" y1="274.3" x2="20.5" y2="274.3" stroke="#000" stroke-width="0.5"/>
<text x="18.3" y="276.1" font-size="5.0" font-weight="bold" text-anchor="end" fill="#000" stroke="#000" stroke-width="0.16">2</text>
<line x1="19.1" y1="257.85" x2="20.5" y2="257.85" stroke="#000" stroke-width="0.5"/>
<text x="18.3" y="259.65000000000003" font-size="5.0" font-weight="bold" text-anchor="end" fill="#000" stroke="#000" stroke-width="0.16">3</text>
<line x1="19.1" y1="241.39999999999998" x2="20.5" y2="241.39999999999998" stroke="#000" stroke-width="0.5"/>
<text x="18.3" y="243.2" font-size="5.0" font-weight="bold" text-anchor="end" fill="#000" stroke="#000" stroke-width="0.16">4</text>
<line x1="19.1" y1="224.95" x2="20.5" y2="224.95" stroke="#000" stroke-width="0.5"/>
<text x="18.3" y="226.75" font-size="5.0" font-weight="bold" text-anchor="end" fill="#000" stroke="#000" stroke-width="0.16">5</text>
<line x1="19.1" y1="208.5" x2="20.5" y2="208.5" stroke="#000" stroke-width="0.5"/>
<text x="18.3" y="210.3" font-size="5.0" font-weight="bold" text-anchor="end" fill="#000" stroke="#000" stroke-width="0.16">6</text>
<line x1="19.1" y1="192.05" x2="20.5" y2="192.05" stroke="#000" stroke-width="0.5"/>
<text x="18.3" y="193.85000000000002" font-size="5.0" font-weight="bold" text-anchor="end" fill="#000" stroke="#000" stroke-width="0.16">7</text>
<line x1="20.5" y1="307.2" x2="136.5" y2="307.2" stroke="#000" stroke-width="0.5"/>
<line x1="30.6" y1="307.2" x2="30.6" y2="308.7" stroke="#000" stroke-width="0.5"/>
<line x1="49.5" y1="307.2" x2="49.5" y2="308.7" stroke="#000" stroke-width="0.5"/>
<line x1="68.4" y1="307.2" x2="68.4" y2="308.7" stroke="#000" stroke-width="0.5"/>
<line x1="87.3" y1="307.2" x2="87.3" y2="308.7" stroke="#000" stroke-width="0.5"/>
<line x1="106.2" y1="307.2" x2="106.2" y2="308.7" stroke="#000" stroke-width="0.5"/>
<line x1="125.1" y1="307.2" x2="125.1" y2="308.7" stroke="#000" stroke-width="0.5"/>
<text x="32.2" y="314.09999999999997" font-size="5.7" font-weight="bold" text-anchor="end" fill="#000" stroke="#000" stroke-width="0.16" transform="rotate(-45 32.2 314.09999999999997)">Lung</text>
<text x="51.1" y="314.09999999999997" font-size="5.7" font-weight="bold" text-anchor="end" fill="#000" stroke="#000" stroke-width="0.16" transform="rotate(-45 51.1 314.09999999999997)">Liver</text>
<text x="70.0" y="314.09999999999997" font-size="5.7" font-weight="bold" text-anchor="end" fill="#000" stroke="#000" stroke-width="0.16" transform="rotate(-45 70.0 314.09999999999997)">GI tract</text>
<text x="88.89999999999999" y="314.09999999999997" font-size="5.7" font-weight="bold" text-anchor="end" fill="#000" stroke="#000" stroke-width="0.16" transform="rotate(-45 88.89999999999999 314.09999999999997)">Spleen</text>
<text x="107.8" y="314.09999999999997" font-size="5.7" font-weight="bold" text-anchor="end" fill="#000" stroke="#000" stroke-width="0.16" transform="rotate(-45 107.8 314.09999999999997)">mLN</text>
<text x="126.69999999999999" y="314.09999999999997" font-size="5.7" font-weight="bold" text-anchor="end" fill="#000" stroke="#000" stroke-width="0.16" transform="rotate(-45 126.69999999999999 314.09999999999997)">ing LN</text>
<text x="7.1" y="249.2" font-size="5.95" font-weight="normal" text-anchor="middle" fill="#000" transform="rotate(-90 7.1 249.2)">BLI x 10<tspan font-size="65%" baseline-shift="super">6</tspan> (photons/sec)</text>
<circle cx="26.7" cy="286.5" r="2.05" fill="#1a249c" stroke="none" stroke-width="0"/>
<circle cx="23.3" cy="295.8" r="2.05" fill="#1a249c" stroke="none" stroke-width="0"/>
<circle cx="25.1" cy="297" r="2.05" fill="#1a249c" stroke="none" stroke-width="0"/>
<circle cx="28.4" cy="297.4" r="2.05" fill="#1a249c" stroke="none" stroke-width="0"/>
<circle cx="24.4" cy="300.5" r="2.05" fill="#1a249c" stroke="none" stroke-width="0"/>
<circle cx="29.8" cy="300.5" r="2.05" fill="#1a249c" stroke="none" stroke-width="0"/>
<circle cx="26.7" cy="303.5" r="2.05" fill="#1a249c" stroke="none" stroke-width="0"/>
<circle cx="28.4" cy="301.6" r="2.05" fill="#1a249c" stroke="none" stroke-width="0"/>
<circle cx="45.3" cy="304" r="2.05" fill="#1a249c" stroke="none" stroke-width="0"/>
<circle cx="46.5" cy="306.3" r="2.05" fill="#1a249c" stroke="none" stroke-width="0"/>
<circle cx="44.2" cy="306" r="2.05" fill="#1a249c" stroke="none" stroke-width="0"/>
<circle cx="45.5" cy="303.7" r="2.05" fill="#1a249c" stroke="none" stroke-width="0"/>
<circle cx="46.3" cy="306" r="2.05" fill="#1a249c" stroke="none" stroke-width="0"/>
<circle cx="63.6" cy="207.8" r="2.05" fill="#1a249c" stroke="none" stroke-width="0"/>
<circle cx="67.8" cy="206.8" r="2.05" fill="#1a249c" stroke="none" stroke-width="0"/>
<circle cx="64.9" cy="231.1" r="2.05" fill="#1a249c" stroke="none" stroke-width="0"/>
<circle cx="63.6" cy="238.4" r="2.05" fill="#1a249c" stroke="none" stroke-width="0"/>
<circle cx="66.2" cy="238.4" r="2.05" fill="#1a249c" stroke="none" stroke-width="0"/>
<circle cx="64.9" cy="241" r="2.05" fill="#1a249c" stroke="none" stroke-width="0"/>
<circle cx="64.9" cy="246.3" r="2.05" fill="#1a249c" stroke="none" stroke-width="0"/>
<circle cx="65" cy="281.25" r="2.05" fill="#1a249c" stroke="none" stroke-width="0"/>
<circle cx="67.4" cy="239" r="2.05" fill="#1a249c" stroke="none" stroke-width="0"/>
<circle cx="83.75" cy="302" r="2.05" fill="#1a249c" stroke="none" stroke-width="0"/>
<circle cx="83.75" cy="307" r="2.05" fill="#1a249c" stroke="none" stroke-width="0"/>
<circle cx="102" cy="282" r="2.05" fill="#1a249c" stroke="none" stroke-width="0"/>
<circle cx="105.75" cy="279.5" r="2.05" fill="#1a249c" stroke="none" stroke-width="0"/>
<circle cx="103.75" cy="297" r="2.05" fill="#1a249c" stroke="none" stroke-width="0"/>
<circle cx="103.75" cy="301.25" r="2.05" fill="#1a249c" stroke="none" stroke-width="0"/>
<circle cx="101.25" cy="305" r="2.05" fill="#1a249c" stroke="none" stroke-width="0"/>
<circle cx="105" cy="305" r="2.05" fill="#1a249c" stroke="none" stroke-width="0"/>
<circle cx="103" cy="303" r="2.05" fill="#1a249c" stroke="none" stroke-width="0"/>
<circle cx="122" cy="305" r="2.05" fill="#1a249c" stroke="none" stroke-width="0"/>
<circle cx="123.75" cy="307" r="2.05" fill="#1a249c" stroke="none" stroke-width="0"/>
<circle cx="121.5" cy="306.5" r="2.05" fill="#1a249c" stroke="none" stroke-width="0"/>
<circle cx="33.7" cy="234.9" r="2.05" fill="#982224" stroke="none" stroke-width="0"/>
<circle cx="34.4" cy="271.9" r="2.05" fill="#982224" stroke="none" stroke-width="0"/>
<circle cx="33.7" cy="273.3" r="2.05" fill="#982224" stroke="none" stroke-width="0"/>
<circle cx="31.4" cy="282.3" r="2.05" fill="#982224" stroke="none" stroke-width="0"/>
<circle cx="34.9" cy="283" r="2.05" fill="#982224" stroke="none" stroke-width="0"/>
<circle cx="33.7" cy="293.5" r="2.05" fill="#982224" stroke="none" stroke-width="0"/>
<circle cx="53" cy="304.6" r="2.05" fill="#982224" stroke="none" stroke-width="0"/>
<circle cx="54" cy="306.5" r="2.05" fill="#982224" stroke="none" stroke-width="0"/>
<circle cx="52.5" cy="305" r="2.05" fill="#982224" stroke="none" stroke-width="0"/>
<circle cx="53.7" cy="306" r="2.05" fill="#982224" stroke="none" stroke-width="0"/>
<circle cx="72.3" cy="228" r="2.05" fill="#982224" stroke="none" stroke-width="0"/>
<circle cx="72.3" cy="235.8" r="2.05" fill="#982224" stroke="none" stroke-width="0"/>
<circle cx="72.3" cy="239.7" r="2.05" fill="#982224" stroke="none" stroke-width="0"/>
<circle cx="72.6" cy="244" r="2.05" fill="#982224" stroke="none" stroke-width="0"/>
<circle cx="73.3" cy="242.5" r="2.05" fill="#982224" stroke="none" stroke-width="0"/>
<circle cx="72.1" cy="256.8" r="2.05" fill="#982224" stroke="none" stroke-width="0"/>
<circle cx="72.1" cy="266.4" r="2.05" fill="#982224" stroke="none" stroke-width="0"/>
<circle cx="91.25" cy="306.25" r="2.05" fill="#982224" stroke="none" stroke-width="0"/>
<circle cx="90.5" cy="307" r="2.05" fill="#982224" stroke="none" stroke-width="0"/>
<circle cx="108.75" cy="298" r="2.05" fill="#982224" stroke="none" stroke-width="0"/>
<circle cx="111.25" cy="298" r="2.05" fill="#982224" stroke="none" stroke-width="0"/>
<circle cx="110" cy="301.25" r="2.05" fill="#982224" stroke="none" stroke-width="0"/>
<circle cx="110" cy="303.75" r="2.05" fill="#982224" stroke="none" stroke-width="0"/>
<circle cx="112" cy="300" r="2.05" fill="#982224" stroke="none" stroke-width="0"/>
<circle cx="129.5" cy="302" r="2.05" fill="#982224" stroke="none" stroke-width="0"/>
<circle cx="129.5" cy="305" r="2.05" fill="#982224" stroke="none" stroke-width="0"/>
<circle cx="129.5" cy="307" r="2.05" fill="#982224" stroke="none" stroke-width="0"/>
<circle cx="26.9" cy="224.3" r="1.2" fill="#111"/>
<circle cx="29.6" cy="224.3" r="1.2" fill="#111"/>
<circle cx="32.3" cy="224.3" r="1.2" fill="#111"/>
<line x1="21.9" y1="228.3" x2="37.7" y2="228.3" stroke="#222" stroke-width="0.7"/>
<rect x="93.3" y="193.8" width="42.3" height="19.7" fill="#fff" stroke="#555" stroke-width="0.5"/>
<circle cx="99.3" cy="200.6" r="1.9" fill="#1a249c" stroke="none" stroke-width="0"/>
<circle cx="99.3" cy="207.6" r="1.9" fill="#8a2a1a" stroke="none" stroke-width="0"/>
<text x="105.4" y="202.2" font-size="4.75" font-weight="normal" text-anchor="start" fill="#000">Control mAb</text>
<text x="105.4" y="209.3" font-size="4.75" font-weight="normal" text-anchor="start" fill="#000">IFNγ mAb</text>
<line x1="393.3" y1="190.6" x2="393.3" y2="294.2" stroke="#000" stroke-width="0.6"/>
<line x1="391.7" y1="293.9" x2="393.3" y2="293.9" stroke="#000" stroke-width="0.6"/>
<text x="390.7" y="296.82399999999996" font-size="6.8" font-weight="bold" text-anchor="end" fill="#000" stroke="#000" stroke-width="0.16">0</text>
<line x1="391.7" y1="276.7333333333333" x2="393.3" y2="276.7333333333333" stroke="#000" stroke-width="0.6"/>
<text x="390.7" y="279.65733333333327" font-size="6.8" font-weight="bold" text-anchor="end" fill="#000" stroke="#000" stroke-width="0.16">1</text>
<line x1="391.7" y1="259.56666666666666" x2="393.3" y2="259.56666666666666" stroke="#000" stroke-width="0.6"/>
<text x="390.7" y="262.49066666666664" font-size="6.8" font-weight="bold" text-anchor="end" fill="#000" stroke="#000" stroke-width="0.16">2</text>
<line x1="391.7" y1="242.39999999999998" x2="393.3" y2="242.39999999999998" stroke="#000" stroke-width="0.6"/>
<text x="390.7" y="245.32399999999998" font-size="6.8" font-weight="bold" text-anchor="end" fill="#000" stroke="#000" stroke-width="0.16">3</text>
<line x1="391.7" y1="225.23333333333335" x2="393.3" y2="225.23333333333335" stroke="#000" stroke-width="0.6"/>
<text x="390.7" y="228.15733333333336" font-size="6.8" font-weight="bold" text-anchor="end" fill="#000" stroke="#000" stroke-width="0.16">4</text>
<line x1="391.7" y1="208.06666666666666" x2="393.3" y2="208.06666666666666" stroke="#000" stroke-width="0.6"/>
<text x="390.7" y="210.99066666666667" font-size="6.8" font-weight="bold" text-anchor="end" fill="#000" stroke="#000" stroke-width="0.16">5</text>
<line x1="391.7" y1="190.9" x2="393.3" y2="190.9" stroke="#000" stroke-width="0.6"/>
<text x="390.7" y="193.824" font-size="6.8" font-weight="bold" text-anchor="end" fill="#000" stroke="#000" stroke-width="0.16">6</text>
<line x1="393.3" y1="293.9" x2="436.7" y2="293.9" stroke="#000" stroke-width="0.6"/>
<rect x="396.7" y="259.56666666666666" width="14.6" height="34.33333333333332" fill="#0808ee" stroke="#00007a" stroke-width="0.5"/>
<rect x="418.2" y="203.775" width="14.6" height="90.12499999999997" fill="#e60000" stroke="#900000" stroke-width="0.5"/>
<line x1="404.0" y1="259.56666666666666" x2="404.0" y2="255.27499999999998" stroke="#444" stroke-width="0.7"/>
<line x1="401.2" y1="255.27499999999998" x2="406.8" y2="255.27499999999998" stroke="#444" stroke-width="0.7"/>
<line x1="425.5" y1="203.775" x2="425.5" y2="191.75833333333333" stroke="#444" stroke-width="0.7"/>
<line x1="422.7" y1="191.75833333333333" x2="428.3" y2="191.75833333333333" stroke="#444" stroke-width="0.7"/>
<circle cx="422.0" cy="187.2" r="1.2" fill="#111"/>
<circle cx="425.2" cy="187.2" r="1.2" fill="#111"/>
<circle cx="428.3" cy="187.2" r="1.2" fill="#111"/>
<text x="376.3" y="241.9" font-size="7.4" font-weight="bold" text-anchor="middle" fill="#000" stroke="#000" stroke-width="0.16" transform="rotate(-90 376.3 241.9)">% IL-17A<tspan font-size="65%" baseline-shift="super">+</tspan> TEa cells</text>
<text x="414.59999999999997" y="304.0" font-size="6.8" font-weight="normal" text-anchor="middle" fill="#000">Lung</text>
<line x1="471.5" y1="190.7" x2="471.5" y2="294.3" stroke="#000" stroke-width="0.6"/>
<line x1="469.9" y1="294.0" x2="471.5" y2="294.0" stroke="#000" stroke-width="0.6"/>
<text x="468.9" y="296.752" font-size="6.4" font-weight="bold" text-anchor="end" fill="#000" stroke="#000" stroke-width="0.16">0.0</text>
<line x1="469.9" y1="268.25" x2="471.5" y2="268.25" stroke="#000" stroke-width="0.6"/>
<text x="468.9" y="271.002" font-size="6.4" font-weight="bold" text-anchor="end" fill="#000" stroke="#000" stroke-width="0.16">0.3</text>
<line x1="469.9" y1="242.5" x2="471.5" y2="242.5" stroke="#000" stroke-width="0.6"/>
<text x="468.9" y="245.252" font-size="6.4" font-weight="bold" text-anchor="end" fill="#000" stroke="#000" stroke-width="0.16">0.6</text>
<line x1="469.9" y1="216.75" x2="471.5" y2="216.75" stroke="#000" stroke-width="0.6"/>
<text x="468.9" y="219.502" font-size="6.4" font-weight="bold" text-anchor="end" fill="#000" stroke="#000" stroke-width="0.16">0.9</text>
<line x1="469.9" y1="191.0" x2="471.5" y2="191.0" stroke="#000" stroke-width="0.6"/>
<text x="468.9" y="193.752" font-size="6.4" font-weight="bold" text-anchor="end" fill="#000" stroke="#000" stroke-width="0.16">1.2</text>
<line x1="471.5" y1="294.0" x2="514.0" y2="294.0" stroke="#000" stroke-width="0.6"/>
<rect x="475.0" y="279.4083333333333" width="14.6" height="14.591666666666669" fill="#0808ee" stroke="#00007a" stroke-width="0.5"/>
<rect x="496.6" y="206.87916666666666" width="14.6" height="87.12083333333334" fill="#e60000" stroke="#900000" stroke-width="0.5"/>
<line x1="482.3" y1="279.4083333333333" x2="482.3" y2="276.8333333333333" stroke="#444" stroke-width="0.7"/>
<line x1="479.5" y1="276.8333333333333" x2="485.1" y2="276.8333333333333" stroke="#444" stroke-width="0.7"/>
<line x1="503.90000000000003" y1="206.87916666666666" x2="503.90000000000003" y2="192.71666666666664" stroke="#444" stroke-width="0.7"/>
<line x1="501.1" y1="192.71666666666664" x2="506.70000000000005" y2="192.71666666666664" stroke="#444" stroke-width="0.7"/>
<circle cx="499.1" cy="187.1" r="1.2" fill="#111"/>
<circle cx="502.3" cy="187.1" r="1.2" fill="#111"/>
<circle cx="505.4" cy="187.1" r="1.2" fill="#111"/>
<circle cx="508.5" cy="187.1" r="1.2" fill="#111"/>
<text x="451.2" y="242.5" font-size="7.37" font-weight="bold" text-anchor="middle" fill="#000" stroke="#000" stroke-width="0.16" transform="rotate(-90 451.2 242.5)"># IL-17A<tspan font-size="65%" baseline-shift="super">+</tspan> TEa cells (x10<tspan font-size="65%" baseline-shift="super">5</tspan>)</text>
<text x="492.5" y="304.0" font-size="6.8" font-weight="normal" text-anchor="middle" fill="#000">Lung</text>
<rect x="421.2" y="310.4" width="64.7" height="23.1" fill="#fff" stroke="#555" stroke-width="0.6"/>
<rect x="425.9" y="314.4" width="9.9" height="4.4" fill="#0808ee" stroke="#00007a" stroke-width="0.4"/>
<rect x="425.9" y="325.3" width="9.9" height="4.4" fill="#e60000" stroke="#900000" stroke-width="0.4"/>
<text x="441.1" y="319.0" font-size="6.9" font-weight="normal" text-anchor="start" fill="#000">Control mAb</text>
<text x="441.1" y="330.0" font-size="6.9" font-weight="normal" text-anchor="start" fill="#000">IFNγ mAb</text>
<defs>
<linearGradient id="mbg1" x1="0" y1="0" x2="0" y2="1">
 <stop offset="0" stop-color="#7a7874"/><stop offset="0.45" stop-color="#858480"/><stop offset="0.6" stop-color="#8e8e8e"/><stop offset="1" stop-color="#969696"/>
</linearGradient>
<linearGradient id="mbg2" x1="0" y1="0" x2="0" y2="1">
 <stop offset="0" stop-color="#8a8884"/><stop offset="0.45" stop-color="#969490"/><stop offset="0.65" stop-color="#a2a2a2"/><stop offset="1" stop-color="#a8a8a8"/>
</linearGradient>
<linearGradient id="cbar" x1="0" y1="0" x2="0" y2="1">
 <stop offset="0" stop-color="#c81818"/><stop offset="0.12" stop-color="#e87020"/><stop offset="0.3" stop-color="#e0e040"/>
 <stop offset="0.48" stop-color="#70d060"/><stop offset="0.64" stop-color="#50c8d0"/><stop offset="0.8" stop-color="#3848e0"/><stop offset="1" stop-color="#2808b0"/>
</linearGradient>
<radialGradient id="mbody" cx="50%" cy="50%" r="50%">
 <stop offset="0" stop-color="#5a88f0"/><stop offset="0.5" stop-color="#2a40e0"/><stop offset="1" stop-color="#2218c8"/>
</radialGradient>
<radialGradient id="mbodyG" cx="50%" cy="55%" r="50%">
 <stop offset="0" stop-color="#d0e850"/><stop offset="0.3" stop-color="#70d088"/><stop offset="0.55" stop-color="#3070e0"/><stop offset="1" stop-color="#2218c8"/>
</radialGradient>
<radialGradient id="lungHot" cx="50%" cy="50%" r="50%">
 <stop offset="0" stop-color="#c01010"/><stop offset="0.3" stop-color="#f03010"/><stop offset="0.55" stop-color="#f0c020"/><stop offset="0.75" stop-color="#50c890"/><stop offset="1" stop-color="#3040d0"/>
</radialGradient>
<radialGradient id="lungHot2" cx="50%" cy="50%" r="50%">
 <stop offset="0" stop-color="#f0e040"/><stop offset="0.35" stop-color="#70d070"/><stop offset="0.7" stop-color="#40a0e0"/><stop offset="1" stop-color="#2a30d0"/>
</radialGradient>
<filter id="noise" x="0" y="0" width="100%" height="100%">
 <feTurbulence type="fractalNoise" baseFrequency="0.9" numOctaves="1" seed="5" result="n"/>
 <feColorMatrix in="n" type="matrix" values="0 0 0 0 0.5  0 0 0 0 0.5  0 0 0 0 0.5  0 0 0 0.35 0" result="c"/>
 <feComposite in="c" in2="SourceGraphic" operator="in"/>
</filter>
<filter id="mottle" x="-30%" y="-10%" width="160%" height="120%" color-interpolation-filters="sRGB">
 <feTurbulence type="fractalNoise" baseFrequency="0.45" numOctaves="2" seed="2" result="n"/>
 <feColorMatrix in="n" type="matrix" values="0 0 0 0 0.5  0 0 0 0 0.65  0 0 0 0 1  3 0 0 0 -1.6" result="spots"/>
 <feGaussianBlur in="spots" stdDeviation="0.3" result="spots"/>
 <feComposite in="spots" in2="SourceGraphic" operator="in" result="s2"/>
 <feMerge><feMergeNode in="SourceGraphic"/><feMergeNode in="s2"/></feMerge>
</filter>
<clipPath id="cpM1"><rect x="158" y="178.4" width="86" height="80.8"/></clipPath>
<clipPath id="cpM2"><rect x="158" y="260" width="86" height="83"/></clipPath>
<clipPath id="cpD1"><rect x="244.8" y="178.4" width="86" height="80.8"/></clipPath>
<clipPath id="cpD2"><rect x="244.8" y="260" width="86" height="83"/></clipPath>
</defs>
<text x="152.2" y="219" font-size="7.6" font-weight="bold" text-anchor="middle" fill="#000" stroke="#000" stroke-width="0.16" transform="rotate(-90 152.2 219)">Control mAb</text>
<text x="152.8" y="300.5" font-size="7.6" font-weight="bold" text-anchor="middle" fill="#000" stroke="#000" stroke-width="0.16" transform="rotate(-90 152.8 300.5)">anti- IFNγ mAb</text>
<g clip-path="url(#cpM1)">
<rect x="158" y="178.4" width="86" height="80.8" fill="url(#mbg1)" stroke="none" stroke-width="0"/>
<rect x="159.0" y="182.4" width="0.8" height="44.440000000000005" fill="#4a4640" stroke="none" stroke-width="0" opacity="0.35"/>
<rect x="164.1" y="182.4" width="0.8" height="44.440000000000005" fill="#4a4640" stroke="none" stroke-width="0" opacity="0.35"/>
<rect x="169.2" y="182.4" width="0.8" height="44.440000000000005" fill="#4a4640" stroke="none" stroke-width="0" opacity="0.35"/>
<rect x="174.3" y="182.4" width="0.8" height="44.440000000000005" fill="#4a4640" stroke="none" stroke-width="0" opacity="0.35"/>
<rect x="179.4" y="182.4" width="0.8" height="44.440000000000005" fill="#4a4640" stroke="none" stroke-width="0" opacity="0.35"/>
<rect x="184.5" y="182.4" width="0.8" height="44.440000000000005" fill="#4a4640" stroke="none" stroke-width="0" opacity="0.35"/>
<rect x="189.6" y="182.4" width="0.8" height="44.440000000000005" fill="#4a4640" stroke="none" stroke-width="0" opacity="0.35"/>
<rect x="194.7" y="182.4" width="0.8" height="44.440000000000005" fill="#4a4640" stroke="none" stroke-width="0" opacity="0.35"/>
<rect x="199.8" y="182.4" width="0.8" height="44.440000000000005" fill="#4a4640" stroke="none" stroke-width="0" opacity="0.35"/>
<rect x="204.9" y="182.4" width="0.8" height="44.440000000000005" fill="#4a4640" stroke="none" stroke-width="0" opacity="0.35"/>
<rect x="210.0" y="182.4" width="0.8" height="44.440000000000005" fill="#4a4640" stroke="none" stroke-width="0" opacity="0.35"/>
<rect x="215.1" y="182.4" width="0.8" height="44.440000000000005" fill="#4a4640" stroke="none" stroke-width="0" opacity="0.35"/>
<rect x="220.2" y="182.4" width="0.8" height="44.440000000000005" fill="#4a4640" stroke="none" stroke-width="0" opacity="0.35"/>
<rect x="225.3" y="182.4" width="0.8" height="44.440000000000005" fill="#4a4640" stroke="none" stroke-width="0" opacity="0.35"/>
<rect x="230.39999999999998" y="182.4" width="0.8" height="44.440000000000005" fill="#4a4640" stroke="none" stroke-width="0" opacity="0.35"/>
<rect x="235.5" y="182.4" width="0.8" height="44.440000000000005" fill="#4a4640" stroke="none" stroke-width="0" opacity="0.35"/>
<rect x="240.6" y="182.4" width="0.8" height="44.440000000000005" fill="#4a4640" stroke="none" stroke-width="0" opacity="0.35"/>
<rect x="158" y="178.4" width="86" height="3.0" fill="#3e3e3e" stroke="none" stroke-width="0"/>
<rect x="158" y="181.4" width="86" height="1.0" fill="#8a8a8a" stroke="none" stroke-width="0"/>
<path d="M161.3,182.9 L175.7,182.9 L175.3,221.5 L161.7,221.5 Z" fill="#5e574c" opacity="0.75"/>
<path d="M161.3,182.9 L161.7,221.5 M175.7,182.9 L175.3,221.5" stroke="#2e2a26" stroke-width="0.7" fill="none"/>
<path d="M180.8,182.9 L195.2,182.9 L194.8,221.5 L181.2,221.5 Z" fill="#5e574c" opacity="0.75"/>
<path d="M180.8,182.9 L181.2,221.5 M195.2,182.9 L194.8,221.5" stroke="#2e2a26" stroke-width="0.7" fill="none"/>
<path d="M193.60000000000002,182.9 L208.0,182.9 L207.60000000000002,221.5 L194.0,221.5 Z" fill="#5e574c" opacity="0.75"/>
<path d="M193.60000000000002,182.9 L194.0,221.5 M208.0,182.9 L207.60000000000002,221.5" stroke="#2e2a26" stroke-width="0.7" fill="none"/>
<path d="M209.8,182.9 L224.2,182.9 L223.8,221.5 L210.2,221.5 Z" fill="#5e574c" opacity="0.75"/>
<path d="M209.8,182.9 L210.2,221.5 M224.2,182.9 L223.8,221.5" stroke="#2e2a26" stroke-width="0.7" fill="none"/>
<path d="M226.4,182.9 L240.79999999999998,182.9 L240.4,221.0 L226.79999999999998,221.0 Z" fill="#5e574c" opacity="0.75"/>
<path d="M226.4,182.9 L226.79999999999998,221.0 M240.79999999999998,182.9 L240.4,221.0" stroke="#2e2a26" stroke-width="0.7" fill="none"/>
<path d="M168.5,218.5 Q168.25,225.75 168.0,246.0" fill="none" stroke="#d0d0d8" stroke-width="0.9" opacity="0.9"/>
<ellipse cx="168.5" cy="207.5" rx="5.0" ry="14" fill="#2e2a26" opacity="0.8"/>
<path d="M171.0,186.5 L168.5,194.5" stroke="#2e2a26" stroke-width="4.2" stroke-linecap="round" opacity="0.8"/>
<path d="M168.5,218.5 Q168.75,221.75 168.0,237.0" fill="none" stroke="#c8c8d8" stroke-width="1.3"/>
<path d="M161.5,195.5 L167.5,199.5 M175.5,195.5 L169.5,199.5 M162.5,217.5 L167.5,213.5 M174.5,217.5 L169.5,213.5" fill="none" stroke="#3424d4" stroke-width="1.4" stroke-linecap="round"/>
<path d="M171.0,188.5 L168.5,197.5" stroke="#3028d4" stroke-width="2.6" stroke-linecap="round"/>
<ellipse cx="171.0" cy="187.5" rx="1.4" ry="1.9" fill="#b8c8f0"/>
<ellipse cx="168.5" cy="205.5" rx="3.9" ry="8.5" fill="url(#mbody)" filter="url(#mottle)"/>
<ellipse cx="168.5" cy="215.0" rx="2.6" ry="3.5" fill="#3424d4" opacity="0.85"/>
<path d="M188.0,218.5 Q191.0,226.75 194.0,248.0" fill="none" stroke="#d0d0d8" stroke-width="0.9" opacity="0.9"/>
<ellipse cx="188.0" cy="207.5" rx="5.0" ry="14" fill="#2e2a26" opacity="0.8"/>
<path d="M186.8,184.5 L188.0,194.5" stroke="#2e2a26" stroke-width="4.2" stroke-linecap="round" opacity="0.8"/>
<path d="M188.0,218.5 Q191.5,222.75 194.0,239.0" fill="none" stroke="#4028d8" stroke-width="1.3"/>
<path d="M181.0,195.5 L187.0,199.5 M195.0,195.5 L189.0,199.5 M182.0,217.5 L187.0,213.5 M194.0,217.5 L189.0,213.5" fill="none" stroke="#3424d4" stroke-width="1.4" stroke-linecap="round"/>
<path d="M186.8,186.5 L188.0,197.5" stroke="#3028d4" stroke-width="2.6" stroke-linecap="round"/>
<ellipse cx="186.8" cy="185.5" rx="1.4" ry="1.9" fill="#b8c8f0"/>
<ellipse cx="188.0" cy="205.5" rx="3.9" ry="8.5" fill="url(#mbody)" filter="url(#mottle)"/>
<ellipse cx="188.0" cy="215.0" rx="2.6" ry="3.5" fill="#3424d4" opacity="0.85"/>
<path d="M200.8,218.5 Q201.3,225.6 201.8,245.7" fill="none" stroke="#d0d0d8" stroke-width="0.9" opacity="0.9"/>
<ellipse cx="200.8" cy="207.5" rx="5.0" ry="14" fill="#2e2a26" opacity="0.8"/>
<path d="M201.5,185.5 L200.8,194.5" stroke="#2e2a26" stroke-width="4.2" stroke-linecap="round" opacity="0.8"/>
<path d="M200.8,218.5 Q201.8,221.6 201.8,236.7" fill="none" stroke="#4028d8" stroke-width="1.3"/>
<path d="M193.8,195.5 L199.8,199.5 M207.8,195.5 L201.8,199.5 M194.8,217.5 L199.8,213.5 M206.8,217.5 L201.8,213.5" fill="none" stroke="#3424d4" stroke-width="1.4" stroke-linecap="round"/>
<path d="M201.5,187.5 L200.8,197.5" stroke="#3028d4" stroke-width="2.6" stroke-linecap="round"/>
<ellipse cx="201.5" cy="186.5" rx="1.4" ry="1.9" fill="#b8c8f0"/>
<ellipse cx="200.8" cy="205.5" rx="3.9" ry="8.5" fill="url(#mbody)" filter="url(#mottle)"/>
<ellipse cx="200.8" cy="215.0" rx="2.6" ry="3.5" fill="#3424d4" opacity="0.85"/>
<path d="M217.0,218.5 Q217.6,226.05 218.2,246.6" fill="none" stroke="#d0d0d8" stroke-width="0.9" opacity="0.9"/>
<ellipse cx="217.0" cy="207.5" rx="5.0" ry="14" fill="#2e2a26" opacity="0.8"/>
<path d="M217.0,185.5 L217.0,194.5" stroke="#2e2a26" stroke-width="4.2" stroke-linecap="round" opacity="0.8"/>
<path d="M217.0,218.5 Q218.1,222.05 218.2,237.6" fill="none" stroke="#4028d8" stroke-width="1.3"/>
<path d="M210.0,195.5 L216.0,199.5 M224.0,195.5 L218.0,199.5 M211.0,217.5 L216.0,213.5 M223.0,217.5 L218.0,213.5" fill="none" stroke="#3424d4" stroke-width="1.4" stroke-linecap="round"/>
<path d="M217.0,187.5 L217.0,197.5" stroke="#3028d4" stroke-width="2.6" stroke-linecap="round"/>
<ellipse cx="217.0" cy="186.5" rx="1.4" ry="1.9" fill="#b8c8f0"/>
<ellipse cx="217.0" cy="205.5" rx="3.9" ry="8.5" fill="url(#mbody)" filter="url(#mottle)"/>
<ellipse cx="217.0" cy="215.0" rx="2.6" ry="3.5" fill="#3424d4" opacity="0.85"/>
<path d="M233.6,218.0 Q235.95,224.5 238.3,244.0" fill="none" stroke="#d0d0d8" stroke-width="0.9" opacity="0.9"/>
<ellipse cx="233.6" cy="207.0" rx="5.0" ry="14" fill="#2e2a26" opacity="0.8"/>
<path d="M233.6,185.0 L233.6,194.0" stroke="#2e2a26" stroke-width="4.2" stroke-linecap="round" opacity="0.8"/>
<path d="M233.6,218.0 Q236.45,220.5 238.3,235.0" fill="none" stroke="#4028d8" stroke-width="1.3"/>
<path d="M226.6,195.0 L232.6,199.0 M240.6,195.0 L234.6,199.0 M227.6,217.0 L232.6,213.0 M239.6,217.0 L234.6,213.0" fill="none" stroke="#3424d4" stroke-width="1.4" stroke-linecap="round"/>
<path d="M233.6,187.0 L233.6,197.0" stroke="#3028d4" stroke-width="2.6" stroke-linecap="round"/>
<ellipse cx="233.6" cy="186.0" rx="1.4" ry="1.9" fill="#b8c8f0"/>
<ellipse cx="233.6" cy="205.0" rx="3.9" ry="8.5" fill="url(#mbody)" filter="url(#mottle)"/>
<ellipse cx="233.6" cy="214.5" rx="2.6" ry="3.5" fill="#3424d4" opacity="0.85"/>
<rect x="158" y="178.4" width="86" height="80.8" fill="#fff" stroke="none" stroke-width="0" filter="url(#noise)" opacity="0.35"/>
</g>
<g clip-path="url(#cpM2)">
<rect x="158" y="260" width="86" height="83" fill="url(#mbg2)" stroke="none" stroke-width="0"/>
<rect x="159.0" y="264" width="0.8" height="45.650000000000006" fill="#6a6660" stroke="none" stroke-width="0" opacity="0.35"/>
<rect x="164.1" y="264" width="0.8" height="45.650000000000006" fill="#6a6660" stroke="none" stroke-width="0" opacity="0.35"/>
<rect x="169.2" y="264" width="0.8" height="45.650000000000006" fill="#6a6660" stroke="none" stroke-width="0" opacity="0.35"/>
<rect x="174.3" y="264" width="0.8" height="45.650000000000006" fill="#6a6660" stroke="none" stroke-width="0" opacity="0.35"/>
<rect x="179.4" y="264" width="0.8" height="45.650000000000006" fill="#6a6660" stroke="none" stroke-width="0" opacity="0.35"/>
<rect x="184.5" y="264" width="0.8" height="45.650000000000006" fill="#6a6660" stroke="none" stroke-width="0" opacity="0.35"/>
<rect x="189.6" y="264" width="0.8" height="45.650000000000006" fill="#6a6660" stroke="none" stroke-width="0" opacity="0.35"/>
<rect x="194.7" y="264" width="0.8" height="45.650000000000006" fill="#6a6660" stroke="none" stroke-width="0" opacity="0.35"/>
<rect x="199.8" y="264" width="0.8" height="45.650000000000006" fill="#6a6660" stroke="none" stroke-width="0" opacity="0.35"/>
<rect x="204.9" y="264" width="0.8" height="45.650000000000006" fill="#6a6660" stroke="none" stroke-width="0" opacity="0.35"/>
<rect x="210.0" y="264" width="0.8" height="45.650000000000006" fill="#6a6660" stroke="none" stroke-width="0" opacity="0.35"/>
<rect x="215.1" y="264" width="0.8" height="45.650000000000006" fill="#6a6660" stroke="none" stroke-width="0" opacity="0.35"/>
<rect x="220.2" y="264" width="0.8" height="45.650000000000006" fill="#6a6660" stroke="none" stroke-width="0" opacity="0.35"/>
<rect x="225.3" y="264" width="0.8" height="45.650000000000006" fill="#6a6660" stroke="none" stroke-width="0" opacity="0.35"/>
<rect x="230.39999999999998" y="264" width="0.8" height="45.650000000000006" fill="#6a6660" stroke="none" stroke-width="0" opacity="0.35"/>
<rect x="235.5" y="264" width="0.8" height="45.650000000000006" fill="#6a6660" stroke="none" stroke-width="0" opacity="0.35"/>
<rect x="240.6" y="264" width="0.8" height="45.650000000000006" fill="#6a6660" stroke="none" stroke-width="0" opacity="0.35"/>
<rect x="158" y="260" width="86" height="0.8" fill="#6a6a6a" stroke="none" stroke-width="0"/>
<rect x="158" y="260.8" width="86" height="3.6" fill="#b8b8b8" stroke="none" stroke-width="0"/>
<rect x="158" y="264.4" width="86" height="1.0" fill="#6a6a6a" stroke="none" stroke-width="0"/>
<path d="M162.3,264.5 L176.7,264.5 L176.3,302.0 L162.7,302.0 Z" fill="#7a7266" opacity="0.75"/>
<path d="M162.3,264.5 L162.7,302.0 M176.7,264.5 L176.3,302.0" stroke="#2e2a26" stroke-width="0.7" fill="none"/>
<path d="M180.9,264.5 L195.29999999999998,264.5 L194.9,301.0 L181.29999999999998,301.0 Z" fill="#7a7266" opacity="0.75"/>
<path d="M180.9,264.5 L181.29999999999998,301.0 M195.29999999999998,264.5 L194.9,301.0" stroke="#2e2a26" stroke-width="0.7" fill="none"/>
<path d="M193.8,264.5 L208.2,264.5 L207.8,302.0 L194.2,302.0 Z" fill="#7a7266" opacity="0.75"/>
<path d="M193.8,264.5 L194.2,302.0 M208.2,264.5 L207.8,302.0" stroke="#2e2a26" stroke-width="0.7" fill="none"/>
<path d="M210.3,264.5 L224.7,264.5 L224.3,302.0 L210.7,302.0 Z" fill="#7a7266" opacity="0.75"/>
<path d="M210.3,264.5 L210.7,302.0 M224.7,264.5 L224.3,302.0" stroke="#2e2a26" stroke-width="0.7" fill="none"/>
<path d="M224.8,264.5 L239.2,264.5 L238.8,302.0 L225.2,302.0 Z" fill="#7a7266" opacity="0.75"/>
<path d="M224.8,264.5 L225.2,302.0 M239.2,264.5 L238.8,302.0" stroke="#2e2a26" stroke-width="0.7" fill="none"/>
<path d="M169.5,299.0 Q169.2,303.0 168.9,320.0" fill="none" stroke="#d0d0d8" stroke-width="0.9" opacity="0.9"/>
<ellipse cx="169.5" cy="288.0" rx="5.0" ry="14" fill="#2e2a26" opacity="0.8"/>
<path d="M170.5,268.2 L169.5,275.0" stroke="#2e2a26" stroke-width="4.2" stroke-linecap="round" opacity="0.8"/>
<path d="M169.5,299.0 Q169.7,299.0 168.9,311.0" fill="none" stroke="#4028d8" stroke-width="1.3"/>
<path d="M162.5,276.0 L168.5,280.0 M176.5,276.0 L170.5,280.0 M163.5,298.0 L168.5,294.0 M175.5,298.0 L170.5,294.0" fill="none" stroke="#3424d4" stroke-width="1.4" stroke-linecap="round"/>
<path d="M170.5,270.2 L169.5,278.0" stroke="#3028d4" stroke-width="2.6" stroke-linecap="round"/>
<ellipse cx="170.5" cy="269.2" rx="1.4" ry="1.9" fill="#d07070"/>
<ellipse cx="169.5" cy="286.0" rx="3.9" ry="8.5" fill="url(#mbody)" filter="url(#mottle)"/>
<ellipse cx="169.5" cy="295.5" rx="2.6" ry="3.5" fill="#3424d4" opacity="0.85"/>
<path d="M188.1,298.0 Q188.14999999999998,306.0 188.2,327.0" fill="none" stroke="#d0d0d8" stroke-width="0.9" opacity="0.9"/>
<ellipse cx="188.1" cy="287.0" rx="5.0" ry="14" fill="#2e2a26" opacity="0.8"/>
<path d="M187.3,266.0 L188.1,274.0" stroke="#2e2a26" stroke-width="4.2" stroke-linecap="round" opacity="0.8"/>
<path d="M188.1,298.0 Q188.64999999999998,302.0 188.2,318.0" fill="none" stroke="#4028d8" stroke-width="1.3"/>
<path d="M181.1,275.0 L187.1,279.0 M195.1,275.0 L189.1,279.0 M182.1,297.0 L187.1,293.0 M194.1,297.0 L189.1,293.0" fill="none" stroke="#3424d4" stroke-width="1.4" stroke-linecap="round"/>
<path d="M187.3,268.0 L188.1,277.0" stroke="#3028d4" stroke-width="2.6" stroke-linecap="round"/>
<ellipse cx="187.3" cy="267.0" rx="1.4" ry="1.9" fill="#d07070"/>
<ellipse cx="188.1" cy="285.0" rx="3.9" ry="8.5" fill="url(#mbodyG)" filter="url(#mottle)"/>
<ellipse cx="188.1" cy="294.5" rx="2.6" ry="3.5" fill="#3424d4" opacity="0.85"/>
<path d="M201.0,299.0 Q200.25,306.5 199.5,327.0" fill="none" stroke="#d0d0d8" stroke-width="0.9" opacity="0.9"/>
<ellipse cx="201.0" cy="288.0" rx="5.0" ry="14" fill="#2e2a26" opacity="0.8"/>
<path d="M200.6,268.2 L201.0,275.0" stroke="#2e2a26" stroke-width="4.2" stroke-linecap="round" opacity="0.8"/>
<path d="M201.0,299.0 Q200.75,302.5 199.5,318.0" fill="none" stroke="#4028d8" stroke-width="1.3"/>
<path d="M194.0,276.0 L200.0,280.0 M208.0,276.0 L202.0,280.0 M195.0,298.0 L200.0,294.0 M207.0,298.0 L202.0,294.0" fill="none" stroke="#3424d4" stroke-width="1.4" stroke-linecap="round"/>
<path d="M200.6,270.2 L201.0,278.0" stroke="#3028d4" stroke-width="2.6" stroke-linecap="round"/>
<ellipse cx="200.6" cy="269.2" rx="1.4" ry="1.9" fill="#d07070"/>
<ellipse cx="201.0" cy="286.0" rx="3.9" ry="8.5" fill="url(#mbody)" filter="url(#mottle)"/>
<ellipse cx="201.0" cy="295.5" rx="2.6" ry="3.5" fill="#3424d4" opacity="0.85"/>
<path d="M217.5,299.0 Q219.4,307.1 221.3,328.2" fill="none" stroke="#d0d0d8" stroke-width="0.9" opacity="0.9"/>
<ellipse cx="217.5" cy="288.0" rx="5.0" ry="14" fill="#2e2a26" opacity="0.8"/>
<path d="M217.4,268.2 L217.5,275.0" stroke="#2e2a26" stroke-width="4.2" stroke-linecap="round" opacity="0.8"/>
<path d="M217.5,299.0 Q219.9,303.1 221.3,319.2" fill="none" stroke="#4028d8" stroke-width="1.3"/>
<path d="M210.5,276.0 L216.5,280.0 M224.5,276.0 L218.5,280.0 M211.5,298.0 L216.5,294.0 M223.5,298.0 L218.5,294.0" fill="none" stroke="#3424d4" stroke-width="1.4" stroke-linecap="round"/>
<path d="M217.4,270.2 L217.5,278.0" stroke="#3028d4" stroke-width="2.6" stroke-linecap="round"/>
<ellipse cx="217.4" cy="269.2" rx="1.4" ry="1.9" fill="#d07070"/>
<ellipse cx="217.5" cy="286.0" rx="3.9" ry="8.5" fill="url(#mbodyG)" filter="url(#mottle)"/>
<ellipse cx="217.5" cy="295.5" rx="2.6" ry="3.5" fill="#3424d4" opacity="0.85"/>
<path d="M232.0,299.0 Q234.25,307.7 236.5,329.4" fill="none" stroke="#d0d0d8" stroke-width="0.9" opacity="0.9"/>
<ellipse cx="232.0" cy="288.0" rx="5.0" ry="14" fill="#2e2a26" opacity="0.8"/>
<path d="M231.6,268.2 L232.0,275.0" stroke="#2e2a26" stroke-width="4.2" stroke-linecap="round" opacity="0.8"/>
<path d="M232.0,299.0 Q234.75,303.7 236.5,320.4" fill="none" stroke="#4028d8" stroke-width="1.3"/>
<path d="M225.0,276.0 L231.0,280.0 M239.0,276.0 L233.0,280.0 M226.0,298.0 L231.0,294.0 M238.0,298.0 L233.0,294.0" fill="none" stroke="#3424d4" stroke-width="1.4" stroke-linecap="round"/>
<path d="M231.6,270.2 L232.0,278.0" stroke="#3028d4" stroke-width="2.6" stroke-linecap="round"/>
<ellipse cx="231.6" cy="269.2" rx="1.4" ry="1.9" fill="#d07070"/>
<ellipse cx="232.0" cy="286.0" rx="3.9" ry="8.5" fill="url(#mbodyG)" filter="url(#mottle)"/>
<ellipse cx="232.0" cy="295.5" rx="2.6" ry="3.5" fill="#3424d4" opacity="0.85"/>
<rect x="158" y="260" width="86" height="83" fill="#fff" stroke="none" stroke-width="0" filter="url(#noise)" opacity="0.35"/>
</g>
<g clip-path="url(#cpD1)">
<rect x="244.8" y="178.4" width="86" height="80.8" fill="#5c5c5c" stroke="none" stroke-width="0"/>
<rect x="244.8" y="178.4" width="86" height="80.8" fill="#fff" stroke="none" stroke-width="0" filter="url(#noise)" opacity="0.55"/>
<ellipse cx="252.5" cy="199.0" rx="28.0" ry="28.0" fill="#575757" stroke="#c8c8c8" stroke-width="0.8"/>
<circle cx="299.0" cy="236.5" r="29.0" fill="#5a5a5a" stroke="#c0c0c0" stroke-width="0.8"/>
</g>
<g clip-path="url(#cpD1)">
<ellipse cx="256" cy="219" rx="10" ry="7" fill="#454545" opacity="0.8"/>
<ellipse cx="265.5" cy="190" rx="4.5" ry="3.2" fill="#2a3ae8"/>
<ellipse cx="265.5" cy="190" rx="2.4" ry="1.3" fill="#90d0f8"/>
<circle cx="254" cy="186" r="1.3" fill="#c03030"/>
<path d="M260,204 q3,-2 6,0 q3,2 5,-1 M262,207 l3,-1" fill="none" stroke="#3030e0" stroke-width="1.3"/>
<g transform="translate(0,0)">
<path d="M289,245 C293,249 298,252 304,252 M300,250 C305,251 308,248 311,250" fill="none" stroke="#c8c8c8" stroke-width="0.6"/>
<path d="M291,215 C290,209 297,206 302,208 C307,210 308,216 303,219 C299,221 295,219 297,215" fill="none" stroke="#3030e6" stroke-width="2.3" stroke-linecap="round"/>
<path d="M297,226 C302,223 307,227 304,232 C301,236 296,233 298,229" fill="none" stroke="#3030e6" stroke-width="2.3" stroke-linecap="round"/>
<path d="M303,219 C308,222 313,219 317,222 C321,225 318,230 321,234 C324,238 320,244 315,243 C310,242 311,236 306,238 C301,240 303,246 298,247" fill="none" stroke="#3030e6" stroke-width="2.3" stroke-linecap="round"/>
<path d="M286,222 C290,226 288,233 292,236 C295,239 293,244 289,246" fill="none" stroke="#3030e6" stroke-width="2.3" stroke-linecap="round"/>
<path d="M309,228 C313,226 316,231 312,234" fill="none" stroke="#3030e6" stroke-width="2.3" stroke-linecap="round"/>
<path d="M306,211 C311,212 314,216 320,215 C323,214 324,219 322,222" fill="none" stroke="#3030e6" stroke-width="2.3" stroke-linecap="round"/>
<path d="M302,248 C307,252 313,250 317,246" fill="none" stroke="#3030e6" stroke-width="2.3" stroke-linecap="round"/>
<path d="M295,240 C299,243 300,249 296,251" fill="none" stroke="#3030e6" stroke-width="2.3" stroke-linecap="round"/>
<path d="M291,215 C290,209 297,206 302,208 C307,210 308,216 303,219 C299,221 295,219 297,215" fill="none" stroke="#b0d0ff" stroke-width="0.9" opacity="0.9"/>
<path d="M297,226 C302,223 307,227 304,232 C301,236 296,233 298,229" fill="none" stroke="#b0d0ff" stroke-width="0.9" opacity="0.9"/>
<ellipse cx="288" cy="229.8" rx="2.6" ry="3.4" fill="#70e060"/>
</g>
</g>
<g clip-path="url(#cpD2)">
<rect x="244.8" y="260" width="86" height="83" fill="#5c5c5c" stroke="none" stroke-width="0"/>
<rect x="244.8" y="260" width="86" height="83" fill="#fff" stroke="none" stroke-width="0" filter="url(#noise)" opacity="0.55"/>
<ellipse cx="263.0" cy="286.5" rx="17.5" ry="24.5" fill="#575757" stroke="#c8c8c8" stroke-width="0.8"/>
<circle cx="301.4" cy="314.5" r="27.5" fill="#5a5a5a" stroke="#c0c0c0" stroke-width="0.8"/>
</g>
<g clip-path="url(#cpD2)">
<ellipse cx="262" cy="304" rx="8.5" ry="6" fill="#454545" opacity="0.8"/>
<ellipse cx="270.3" cy="277.0" rx="6.8" ry="5.8" fill="#3040d0" opacity="0.8"/>
<ellipse cx="270.3" cy="277.0" rx="5.6" ry="4.8" fill="url(#lungHot)"/>
<path d="M266.5,274 q2,-2 4,0 M271,280 q2,1 3,-1" stroke="#f0e040" stroke-width="1" fill="none"/>
<ellipse cx="264" cy="289.4" rx="3" ry="2.4" fill="#2a3ae8"/>
<circle cx="256" cy="268" r="1.2" fill="#c03030"/>
<path d="M253,292 l3,-1 M258,287 l2,1" stroke="#3030e0" stroke-width="1.1"/>
<g transform="translate(2.4,78)">
<path d="M289,245 C293,249 298,252 304,252 M300,250 C305,251 308,248 311,250" fill="none" stroke="#c8c8c8" stroke-width="0.6"/>
<path d="M291,215 C290,209 297,206 302,208 C307,210 308,216 303,219 C299,221 295,219 297,215" fill="none" stroke="#3030e6" stroke-width="2.3" stroke-linecap="round"/>
<path d="M297,226 C302,223 307,227 304,232 C301,236 296,233 298,229" fill="none" stroke="#3030e6" stroke-width="2.3" stroke-linecap="round"/>
<path d="M303,219 C308,222 313,219 317,222 C321,225 318,230 321,234 C324,238 320,244 315,243 C310,242 311,236 306,238 C301,240 303,246 298,247" fill="none" stroke="#3030e6" stroke-width="2.3" stroke-linecap="round"/>
<path d="M286,222 C290,226 288,233 292,236 C295,239 293,244 289,246" fill="none" stroke="#3030e6" stroke-width="2.3" stroke-linecap="round"/>
<path d="M309,228 C313,226 316,231 312,234" fill="none" stroke="#3030e6" stroke-width="2.3" stroke-linecap="round"/>
<path d="M306,211 C311,212 314,216 320,215 C323,214 324,219 322,222" fill="none" stroke="#3030e6" stroke-width="2.3" stroke-linecap="round"/>
<path d="M302,248 C307,252 313,250 317,246" fill="none" stroke="#3030e6" stroke-width="2.3" stroke-linecap="round"/>
<path d="M295,240 C299,243 300,249 296,251" fill="none" stroke="#3030e6" stroke-width="2.3" stroke-linecap="round"/>
<path d="M291,215 C290,209 297,206 302,208 C307,210 308,216 303,219 C299,221 295,219 297,215" fill="none" stroke="#b0d0ff" stroke-width="0.9" opacity="0.9"/>
<path d="M297,226 C302,223 307,227 304,232 C301,236 296,233 298,229" fill="none" stroke="#b0d0ff" stroke-width="0.9" opacity="0.9"/>
</g>
</g>
<text x="262.0" y="185.4" font-size="6.9" font-weight="normal" text-anchor="start" fill="#e0e0e0">lung</text>
<text x="272.7" y="198.7" font-size="6.9" font-weight="normal" text-anchor="start" fill="#e0e0e0">spleen</text>
<text x="250.7" y="212.0" font-size="6.9" font-weight="normal" text-anchor="start" fill="#e0e0e0">liver</text>
<text x="290.4" y="223.4" font-size="6.9" font-weight="normal" text-anchor="start" fill="#e0e0e0">mLN</text>
<text x="284.0" y="251.4" font-size="6.9" font-weight="normal" text-anchor="start" fill="#e0e0e0">GIT</text>
<text x="263.2" y="269.4" font-size="6.9" font-weight="normal" text-anchor="start" fill="#e0e0e0">lung</text>
<text x="278.6" y="284.2" font-size="6.9" font-weight="normal" text-anchor="start" fill="#e0e0e0">spleen</text>
<text x="252.5" y="295.6" font-size="6.9" font-weight="normal" text-anchor="start" fill="#e0e0e0">liver</text>
<text x="295.3" y="312.9" font-size="6.9" font-weight="normal" text-anchor="start" fill="#e0e0e0">mLN</text>
<text x="284.8" y="333.8" font-size="6.9" font-weight="normal" text-anchor="start" fill="#e0e0e0">GIT</text>
<text x="338.3" y="176.6" font-size="6.4" font-weight="bold" text-anchor="middle" fill="#000" stroke="#000" stroke-width="0.16">lungs</text>
<rect x="330.8" y="178.4" width="1.2" height="75.19999999999999" fill="#3a3a3a" stroke="none" stroke-width="0"/>
<rect x="332" y="178.4" width="12.4" height="15.04" fill="#3a3a3c" stroke="#8a8a8a" stroke-width="0.7"/>
<path d="M334.2,180.60320000000002 Q338.2,178.60320000000002 342.4,181.10320000000002 Q343.59999999999997,185.92000000000002 341.7,191.73680000000002 Q338.2,193.03680000000003 334.4,191.23680000000002 Q332.8,185.92000000000002 334.2,180.60320000000002 Z" fill="#2a30e8"/>
<path d="M339.7,181.92000000000002 q-3,0 -2.5,2.5 q0.5,2 2.5,1.5 q2,0 1,3 q-1,2 -3.5,1" stroke="#e0f0ff" stroke-width="1.5" fill="none" stroke-linecap="round"/>
<rect x="332" y="193.44" width="12.4" height="15.04" fill="#3a3a3c" stroke="#8a8a8a" stroke-width="0.7"/>
<path d="M334.2,195.6432 Q338.2,193.6432 342.4,196.1432 Q343.59999999999997,200.96 341.7,206.7768 Q338.2,208.07680000000002 334.4,206.2768 Q332.8,200.96 334.2,195.6432 Z" fill="#2a30e8"/>
<path d="M337.2,197.46 q-2.5,3 0,6 q2,1.5 3.5,0" stroke="#c8f0ff" stroke-width="2" fill="none" stroke-linecap="round"/>
<rect x="332" y="208.48000000000002" width="12.4" height="15.04" fill="#3a3a3c" stroke="#8a8a8a" stroke-width="0.7"/>
<path d="M334.2,210.68320000000003 Q338.2,208.68320000000003 342.4,211.18320000000003 Q343.59999999999997,216.00000000000003 341.7,221.81680000000003 Q338.2,223.11680000000004 334.4,221.31680000000003 Q332.8,216.00000000000003 334.2,210.68320000000003 Z" fill="#2a30e8"/>
<circle cx="336.7" cy="213.00000000000003" r="1.1" fill="#d8ecff"/>
<circle cx="339.2" cy="215.00000000000003" r="1.1" fill="#d8ecff"/>
<circle cx="337.2" cy="217.50000000000003" r="1.1" fill="#d8ecff"/>
<circle cx="339.7" cy="219.50000000000003" r="1.1" fill="#d8ecff"/>
<rect x="332" y="223.52" width="12.4" height="15.04" fill="#3a3a3c" stroke="#8a8a8a" stroke-width="0.7"/>
<path d="M334.2,225.72320000000002 Q338.2,223.72320000000002 342.4,226.22320000000002 Q343.59999999999997,231.04000000000002 341.7,236.85680000000002 Q338.2,238.15680000000003 334.4,236.35680000000002 Q332.8,231.04000000000002 334.2,225.72320000000002 Z" fill="#2420c8" opacity="0.85"/>
<path d="M336.2,229.04000000000002 q2,1 3,-1 M336.7,233.04000000000002 q2,1 3,-0.5" stroke="#8a9af0" stroke-width="1" fill="none"/>
<rect x="332" y="238.56" width="12.4" height="15.04" fill="#3a3a3c" stroke="#8a8a8a" stroke-width="0.7"/>
<path d="M334.2,240.7632 Q338.2,238.7632 342.4,241.2632 Q343.59999999999997,246.08 341.7,251.8968 Q338.2,253.19680000000002 334.4,251.3968 Q332.8,246.08 334.2,240.7632 Z" fill="#2420c8" opacity="0.85"/>
<path d="M336.2,244.08 q2,1 3,-1 M336.7,248.08 q2,1 3,-0.5" stroke="#8a9af0" stroke-width="1" fill="none"/>
<rect x="330.8" y="260.5" width="1.2" height="67.0" fill="#3a3a3a" stroke="none" stroke-width="0"/>
<rect x="332" y="260.5" width="12.4" height="13.4" fill="#3a3a3c" stroke="#8a8a8a" stroke-width="0.7"/>
<ellipse cx="338.2" cy="267.2" rx="5" ry="5.628" fill="#e81010"/>
<path d="M334.7,268.2 q0.5,-2 2,-3" stroke="#f8b0b0" stroke-width="0.9" fill="none"/>
<rect x="332" y="273.9" width="12.4" height="13.4" fill="#3a3a3c" stroke="#8a8a8a" stroke-width="0.7"/>
<ellipse cx="338.2" cy="280.59999999999997" rx="5" ry="5.628" fill="url(#lungHot)"/>
<rect x="332" y="287.3" width="12.4" height="13.4" fill="#3a3a3c" stroke="#8a8a8a" stroke-width="0.7"/>
<ellipse cx="338.2" cy="294.0" rx="5" ry="5.628" fill="url(#lungHot2)"/>
<rect x="332" y="300.7" width="12.4" height="13.4" fill="#3a3a3c" stroke="#8a8a8a" stroke-width="0.7"/>
<ellipse cx="338.2" cy="307.4" rx="5" ry="5.628" fill="url(#lungHot)"/>
<rect x="332" y="314.1" width="12.4" height="13.4" fill="#3a3a3c" stroke="#8a8a8a" stroke-width="0.7"/>
<ellipse cx="338.2" cy="320.8" rx="5" ry="5.628" fill="#e81010"/>
<path d="M334.7,321.8 q0.5,-2 2,-3" stroke="#f8b0b0" stroke-width="0.9" fill="none"/>
<rect x="345.8" y="178.4" width="1.8" height="68.2" fill="url(#cbar)" stroke="none" stroke-width="0"/>
<rect x="345.8" y="261.0" width="1.8" height="67.8" fill="url(#cbar)" stroke="none" stroke-width="0"/>
<rect x="349.0" y="178.4" width="3.2" height="1.2" fill="#c8c8c8" stroke="none" stroke-width="0"/>
<rect x="349.0" y="191.9" width="3.2" height="1.2" fill="#c8c8c8" stroke="none" stroke-width="0"/>
<rect x="349.0" y="205.4" width="3.2" height="1.2" fill="#c8c8c8" stroke="none" stroke-width="0"/>
<rect x="349.0" y="218.9" width="3.2" height="1.2" fill="#c8c8c8" stroke="none" stroke-width="0"/>
<rect x="349.0" y="232.4" width="3.2" height="1.2" fill="#c8c8c8" stroke="none" stroke-width="0"/>
<rect x="349.0" y="261.0" width="3.2" height="1.2" fill="#c8c8c8" stroke="none" stroke-width="0"/>
<rect x="349.0" y="274.5" width="3.2" height="1.2" fill="#c8c8c8" stroke="none" stroke-width="0"/>
<rect x="349.0" y="288.0" width="3.2" height="1.2" fill="#c8c8c8" stroke="none" stroke-width="0"/>
<rect x="349.0" y="301.5" width="3.2" height="1.2" fill="#c8c8c8" stroke="none" stroke-width="0"/>
<rect x="349.0" y="315.0" width="3.2" height="1.2" fill="#c8c8c8" stroke="none" stroke-width="0"/>
<rect x="346.5" y="249.5" width="9" height="7.5" fill="#e6e6e6" stroke="none" stroke-width="0"/>
<rect x="346.5" y="332.5" width="9" height="8.5" fill="#e6e6e6" stroke="none" stroke-width="0"/>
</svg>
</body></html>
